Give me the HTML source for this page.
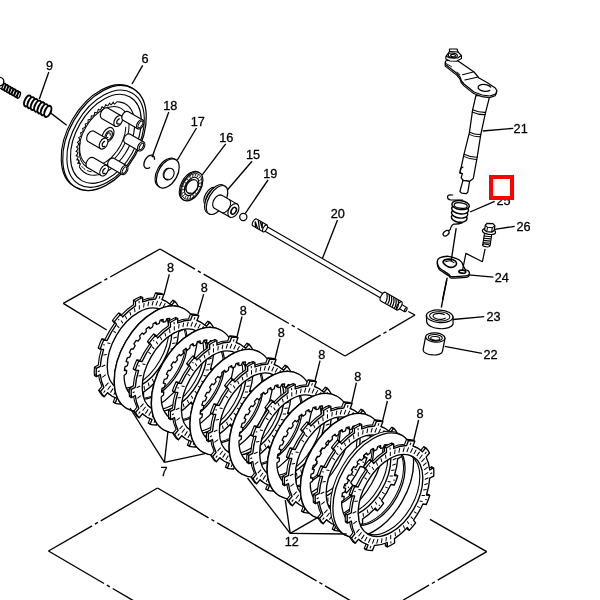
<!DOCTYPE html>
<html><head><meta charset="utf-8"><title>Clutch</title>
<style>
html,body{margin:0;padding:0;background:#fff;}
body{width:600px;height:600px;overflow:hidden;position:relative;font-family:"Liberation Sans",sans-serif;}
svg{position:absolute;left:0;top:0;display:block;}
svg text{font-family:"Liberation Sans",sans-serif;fill:#000;}
</style></head><body>
<svg width="600" height="600" viewBox="0 0 600 600">
<rect width="600" height="600" fill="#fff"/>
<path d="M63.3 303.3L101.5 281.9" stroke="#000" stroke-width="1.40" fill="none" />
<path d="M104.4 280.2L107.3 278.6" stroke="#000" stroke-width="1.40" fill="none" />
<path d="M110.2 277L160 249" stroke="#000" stroke-width="1.40" fill="none" />
<path d="M160 249L195 269.2" stroke="#000" stroke-width="1.40" fill="none" />
<path d="M197.8 270.9L200.8 272.6" stroke="#000" stroke-width="1.40" fill="none" />
<path d="M203.6 274.2L288.9 323.5" stroke="#000" stroke-width="1.40" fill="none" />
<path d="M291.7 325.2L294.7 326.9" stroke="#000" stroke-width="1.40" fill="none" />
<path d="M297.5 328.5L345 356" stroke="#000" stroke-width="1.40" fill="none" />
<path d="M63.3 303.3L106.7 330" stroke="#000" stroke-width="1.40" fill="none" />
<path d="M345 356L380.6 335.2" stroke="#000" stroke-width="1.40" fill="none" />
<path d="M383.4 333.5L386.4 331.8" stroke="#000" stroke-width="1.40" fill="none" />
<path d="M389.2 330.1L415 315" stroke="#000" stroke-width="1.40" fill="none" />
<path d="M408.3 311.5L415 315" stroke="#000" stroke-width="1.40" fill="none" />
<path d="M157.5 488L100.8 520.8" stroke="#000" stroke-width="1.40" fill="none" />
<path d="M97.9 522.4L95 524.1" stroke="#000" stroke-width="1.40" fill="none" />
<path d="M92.1 525.8L48.5 551" stroke="#000" stroke-width="1.40" fill="none" />
<path d="M157.5 488L208.5 517.8" stroke="#000" stroke-width="1.40" fill="none" />
<path d="M211.4 519.5L214.3 521.2" stroke="#000" stroke-width="1.40" fill="none" />
<path d="M217.2 522.8L316.5 580.9" stroke="#000" stroke-width="1.40" fill="none" />
<path d="M319.3 582.5L322.3 584.2" stroke="#000" stroke-width="1.40" fill="none" />
<path d="M325.1 585.9L351 601" stroke="#000" stroke-width="1.40" fill="none" />
<path d="M48.5 551L104 583.5" stroke="#000" stroke-width="1.40" fill="none" />
<path d="M106.9 585.1L109.8 586.9" stroke="#000" stroke-width="1.40" fill="none" />
<path d="M112.7 588.5L134 601" stroke="#000" stroke-width="1.40" fill="none" />
<path d="M430 519.3L486.7 551.7" stroke="#000" stroke-width="1.40" fill="none" />
<path d="M486.7 551.7L437.7 580.1" stroke="#000" stroke-width="1.40" fill="none" />
<path d="M434.8 581.8L431.9 583.5" stroke="#000" stroke-width="1.40" fill="none" />
<path d="M429 585.1L403.3 600" stroke="#000" stroke-width="1.40" fill="none" />
<g id="plates" stroke-linejoin="round">
<path d="M105.6 391.4A54.6 32.8 120 0 0 115.2 397.2L113.2 402.1A60 36 120 0 0 119.5 402.8L121.4 397.9A54.6 32.8 120 0 0 134.4 394.8L134.3 399.3A60 36 120 0 0 141.6 395.4L141.5 390.9A54.6 32.8 120 0 0 154.4 379.9L156.3 382.8A60 36 120 0 0 162.6 375.2L160.5 372.4A54.6 32.8 120 0 0 169.9 356.4L173.3 356.8A60 36 120 0 0 176.8 347.7L173.4 347.3A54.6 32.8 120 0 0 176.8 330.6L180.7 328.5A60 36 120 0 0 180.6 320.2L176.7 322.4A54.6 32.8 120 0 0 173.1 309.4L176.5 305.4A60 36 120 0 0 172.8 300.1L169.4 304.3A54.6 32.8 120 0 0 159.9 298.5L161.8 293.6A60 36 120 0 0 155.5 292.9L153.6 297.8A54.6 32.8 120 0 0 140.7 300.9L140.7 296.4A60 36 120 0 0 133.4 300.3L133.5 304.8A54.6 32.8 120 0 0 120.6 315.8L118.7 312.9A60 36 120 0 0 112.4 320.5L114.5 323.3A54.6 32.8 120 0 0 105.1 339.3L101.7 338.9A60 36 120 0 0 98.2 348L101.6 348.4A54.6 32.8 120 0 0 98.3 365.1L94.4 367.2A60 36 120 0 0 94.4 375.5L98.3 373.3A54.6 32.8 120 0 0 101.9 386.3L98.6 390.3A60 36 120 0 0 102.2 395.6L105.6 391.4ZM115.1 386.6A44.8 26.9 120 0 0 159.9 309.1A44.8 26.9 120 0 0 115.1 386.6Z" fill="#fff" stroke="#000" stroke-width="1.12" fill-rule="evenodd"/>
<path d="M115.2 403.3L113.2 402.1M121.5 404L119.5 402.8M136.3 400.5L134.3 399.3M143.6 396.5L141.6 395.4M158.3 383.9L156.3 382.8M164.6 376.3L162.6 375.2M175.3 358L173.3 356.8M178.8 348.8L176.8 347.7M182.7 329.7L180.7 328.5M182.6 321.3L180.6 320.2M178.5 306.5L176.5 305.4M174.8 301.3L172.8 300.1M163.8 294.7L161.8 293.6M157.5 294L155.5 292.9M142.7 297.5L140.7 296.4M135.4 301.5L133.4 300.3M120.7 314.1L118.7 312.9M114.4 321.7L112.4 320.5M103.7 340L101.7 338.9M100.2 349.2L98.2 348M96.3 368.3L94.4 367.2M96.4 376.7L94.4 375.5M100.5 391.5L98.6 390.3M104.2 396.7L102.2 395.6" fill="none" stroke="#000" stroke-width="1.01" />
<path d="M107.6 392.6A54.6 32.8 120 0 0 117.1 398.3L115.2 403.3A60 36 120 0 0 121.5 404L123.4 399A54.6 32.8 120 0 0 136.3 396L136.3 400.5A60 36 120 0 0 143.6 396.5L143.5 392.1A54.6 32.8 120 0 0 156.4 381L158.3 383.9A60 36 120 0 0 164.6 376.3L162.5 373.6A54.6 32.8 120 0 0 171.9 357.5L175.3 358A60 36 120 0 0 178.8 348.8L175.4 348.5A54.6 32.8 120 0 0 178.7 331.7L182.7 329.7A60 36 120 0 0 182.6 321.3L178.7 323.5A54.6 32.8 120 0 0 175.1 310.6L178.5 306.5A60 36 120 0 0 174.8 301.3L171.4 305.4A54.6 32.8 120 0 0 161.9 299.7L163.8 294.7A60 36 120 0 0 157.5 294L155.6 299A54.6 32.8 120 0 0 142.7 302L142.7 297.5A60 36 120 0 0 135.4 301.5L135.5 305.9A54.6 32.8 120 0 0 122.6 317L120.7 314.1A60 36 120 0 0 114.4 321.7L116.5 324.4A54.6 32.8 120 0 0 107.1 340.5L103.7 340A60 36 120 0 0 100.2 349.2L103.6 349.5A54.6 32.8 120 0 0 100.3 366.3L96.3 368.3A60 36 120 0 0 96.4 376.7L100.3 374.5A54.6 32.8 120 0 0 103.9 387.4L100.5 391.5A60 36 120 0 0 104.2 396.7L107.6 392.6ZM117.1 387.8A44.8 26.9 120 0 0 161.9 310.2A44.8 26.9 120 0 0 117.1 387.8Z" fill="#fff" stroke="#000" stroke-width="1.34" fill-rule="evenodd"/>
<path d="M116.1 390.5L113.7 394.8M119.5 391.8L117.4 396.3M123.1 392.5L121.4 397.1M127 392.5L125.7 397.1M131.1 391.9L130.3 396.4M135.4 390.5L134.9 394.9M139.7 388.5L139.7 392.7M144 385.9L144.5 389.8M148.2 382.7L149.1 386.2M152.3 378.9L153.6 382.1M156.2 374.7L157.9 377.4M159.8 370.1L162 372.3M163.1 365.1L165.6 366.8M166.1 359.9L168.9 361.1M168.6 354.5L171.6 355.1M170.6 349.1L173.9 349.1M172.2 343.6L175.6 343M173.3 338.2L176.8 337.1M173.8 333L177.4 331.3M173.7 328.1L177.3 325.9M173.2 323.4L176.7 320.7M172.1 319.2L175.5 316.1M170.5 315.4L173.7 311.9M168.4 312.2L171.4 308.3M165.8 309.6L168.6 305.4M162.9 307.5L165.3 303.2M159.5 306.2L161.6 301.7M155.9 305.5L157.6 300.9M152 305.5L153.3 300.9M147.9 306.1L148.7 301.6M143.6 307.5L144.1 303.1M139.3 309.5L139.3 305.3M135 312.1L134.5 308.2M130.8 315.3L129.9 311.8M126.7 319.1L125.4 315.9M122.8 323.3L121.1 320.6M119.2 327.9L117 325.7M115.9 332.9L113.4 331.2M110.4 343.5L107.4 342.9M106.8 354.4L103.4 355M105.2 365L101.6 366.7M105.8 374.6L102.3 377.3M108.5 382.6L105.3 386.1M110.6 385.8L107.6 389.7M113.2 388.4L110.4 392.6M120 399.4L119 401.8M139.9 394.7L139.9 396.9M159.8 377.7L160.7 379.1M174.2 353.1L175.8 353.3M179.3 327.3L181.2 326.3M173.8 307.4L175.4 305.4M159 298.6L160 296.2M139.1 303.3L139.1 301.1M119.2 320.3L118.3 318.9M104.8 344.9L103.2 344.7M99.7 370.7L97.8 371.7M105.2 390.6L103.6 392.6" fill="none" stroke="#000" stroke-width="1.01" />
<path d="M125.6 407.7A57.5 34.5 120 0 0 183.1 308.2A57.5 34.5 120 0 0 125.6 407.7ZM136.6 397.8A44 26.4 120 0 0 179.3 322.1L177.3 320.5L175.2 323.1L173.2 322L174.3 318.9L171.9 318.1L170.1 321L167.7 320.7L168.3 317.6L165.6 317.7L164.2 320.8L161.6 321.3L161.6 318.4L158.7 319.4L157.8 322.5L155.1 323.7L154.6 321.2L151.6 322.9L151.3 325.9L148.5 327.8L147.5 325.8L144.6 328.3L144.8 330.9L142.3 333.5L140.8 332L138.1 335.1L138.9 337.3L136.6 340.4L134.7 339.6L132.5 343L133.7 344.8L131.9 348.1L129.7 348L127.9 351.7L129.6 352.9L128.2 356.4L125.8 357L124.7 360.8L126.7 361.2L125.9 364.7L123.4 366L122.9 369.6L125.2 369.4L125 372.7L122.6 374.6A44 26.4 120 0 0 136.6 397.8Z" fill="#fff" stroke="#000" stroke-width="1.01" fill-rule="evenodd"/>
<path d="M127 408.6A57.5 34.5 120 0 0 184.5 309A57.5 34.5 120 0 0 127 408.6ZM138.1 398.6A44 26.4 120 0 0 180.8 322.9L178.8 321.3L176.7 323.9L174.7 322.8L175.8 319.7L173.4 319L171.6 321.8L169.2 321.5L169.8 318.5L167 318.6L165.7 321.6L163.1 322.1L163.1 319.3L160.2 320.2L159.3 323.3L156.6 324.5L156 322.1L153.1 323.8L152.7 326.7L150 328.7L149 326.7L146.1 329.1L146.3 331.8L143.7 334.3L142.3 332.9L139.6 335.9L140.4 338.2L138.1 341.2L136.2 340.4L133.9 343.9L135.2 345.6L133.3 349L131.1 348.9L129.4 352.6L131.1 353.7L129.7 357.2L127.3 357.8L126.1 361.6L128.2 362.1L127.4 365.6L124.9 366.8L124.4 370.5L126.7 370.3L126.4 373.6L124.1 375.4A44 26.4 120 0 0 138.1 398.6Z" fill="#fff" stroke="#000" stroke-width="1.29" fill-rule="evenodd"/>
<path d="M140.6 412.4A54.6 32.8 120 0 0 150.2 418.2L148.2 423.1A60 36 120 0 0 154.5 423.8L156.4 418.9A54.6 32.8 120 0 0 169.4 415.8L169.3 420.3A60 36 120 0 0 176.6 416.4L176.5 411.9A54.6 32.8 120 0 0 189.4 400.9L191.3 403.8A60 36 120 0 0 197.6 396.2L195.5 393.4A54.6 32.8 120 0 0 204.9 377.4L208.3 377.8A60 36 120 0 0 211.8 368.7L208.4 368.3A54.6 32.8 120 0 0 211.8 351.6L215.7 349.5A60 36 120 0 0 215.6 341.2L211.7 343.4A54.6 32.8 120 0 0 208.1 330.4L211.5 326.4A60 36 120 0 0 207.8 321.1L204.4 325.3A54.6 32.8 120 0 0 194.9 319.5L196.8 314.6A60 36 120 0 0 190.5 313.9L188.6 318.8A54.6 32.8 120 0 0 175.7 321.9L175.7 317.4A60 36 120 0 0 168.4 321.3L168.5 325.8A54.6 32.8 120 0 0 155.6 336.8L153.7 333.9A60 36 120 0 0 147.4 341.5L149.5 344.3A54.6 32.8 120 0 0 140.1 360.3L136.7 359.9A60 36 120 0 0 133.2 369L136.6 369.4A54.6 32.8 120 0 0 133.3 386.1L129.4 388.2A60 36 120 0 0 129.4 396.5L133.3 394.3A54.6 32.8 120 0 0 136.9 407.3L133.6 411.3A60 36 120 0 0 137.2 416.6L140.6 412.4ZM150.1 407.6A44.8 26.9 120 0 0 194.9 330.1A44.8 26.9 120 0 0 150.1 407.6Z" fill="#fff" stroke="#000" stroke-width="1.12" fill-rule="evenodd"/>
<path d="M150.2 424.3L148.2 423.1M156.5 425L154.5 423.8M171.3 421.5L169.3 420.3M178.6 417.5L176.6 416.4M193.3 404.9L191.3 403.8M199.6 397.3L197.6 396.2M210.3 379L208.3 377.8M213.8 369.8L211.8 368.7M217.7 350.7L215.7 349.5M217.6 342.3L215.6 341.2M213.5 327.5L211.5 326.4M209.8 322.3L207.8 321.1M198.8 315.7L196.8 314.6M192.5 315L190.5 313.9M177.7 318.5L175.7 317.4M170.4 322.5L168.4 321.3M155.7 335.1L153.7 333.9M149.4 342.7L147.4 341.5M138.7 361L136.7 359.9M135.2 370.2L133.2 369M131.3 389.3L129.4 388.2M131.4 397.7L129.4 396.5M135.5 412.5L133.6 411.3M139.2 417.7L137.2 416.6" fill="none" stroke="#000" stroke-width="1.01" />
<path d="M142.6 413.6A54.6 32.8 120 0 0 152.1 419.3L150.2 424.3A60 36 120 0 0 156.5 425L158.4 420A54.6 32.8 120 0 0 171.3 417L171.3 421.5A60 36 120 0 0 178.6 417.5L178.5 413.1A54.6 32.8 120 0 0 191.4 402L193.3 404.9A60 36 120 0 0 199.6 397.3L197.5 394.6A54.6 32.8 120 0 0 206.9 378.5L210.3 379A60 36 120 0 0 213.8 369.8L210.4 369.5A54.6 32.8 120 0 0 213.7 352.7L217.7 350.7A60 36 120 0 0 217.6 342.3L213.7 344.5A54.6 32.8 120 0 0 210.1 331.6L213.5 327.5A60 36 120 0 0 209.8 322.3L206.4 326.4A54.6 32.8 120 0 0 196.9 320.7L198.8 315.7A60 36 120 0 0 192.5 315L190.6 320A54.6 32.8 120 0 0 177.7 323L177.7 318.5A60 36 120 0 0 170.4 322.5L170.5 326.9A54.6 32.8 120 0 0 157.6 338L155.7 335.1A60 36 120 0 0 149.4 342.7L151.5 345.4A54.6 32.8 120 0 0 142.1 361.5L138.7 361A60 36 120 0 0 135.2 370.2L138.6 370.5A54.6 32.8 120 0 0 135.3 387.3L131.3 389.3A60 36 120 0 0 131.4 397.7L135.3 395.5A54.6 32.8 120 0 0 138.9 408.4L135.5 412.5A60 36 120 0 0 139.2 417.7L142.6 413.6ZM152.1 408.8A44.8 26.9 120 0 0 196.9 331.2A44.8 26.9 120 0 0 152.1 408.8Z" fill="#fff" stroke="#000" stroke-width="1.34" fill-rule="evenodd"/>
<path d="M151.1 411.5L148.7 415.8M154.5 412.8L152.4 417.3M158.1 413.5L156.4 418.1M162 413.5L160.7 418.1M166.1 412.9L165.3 417.4M170.4 411.5L169.9 415.9M174.7 409.5L174.7 413.7M179 406.9L179.5 410.8M183.2 403.7L184.1 407.2M187.3 399.9L188.6 403.1M191.2 395.7L192.9 398.4M194.8 391.1L197 393.3M198.1 386.1L200.6 387.8M201.1 380.9L203.9 382.1M203.6 375.5L206.6 376.1M205.6 370.1L208.9 370.1M207.2 364.6L210.6 364M208.3 359.2L211.8 358.1M208.8 354L212.4 352.3M208.7 349.1L212.3 346.9M208.2 344.4L211.7 341.7M207.1 340.2L210.5 337.1M205.5 336.4L208.7 332.9M203.4 333.2L206.4 329.3M200.8 330.6L203.6 326.4M197.9 328.5L200.3 324.2M194.5 327.2L196.6 322.7M190.9 326.5L192.6 321.9M187 326.5L188.3 321.9M182.9 327.1L183.7 322.6M178.6 328.5L179.1 324.1M174.3 330.5L174.3 326.3M170 333.1L169.5 329.2M165.8 336.3L164.9 332.8M161.7 340.1L160.4 336.9M157.8 344.3L156.1 341.6M154.2 348.9L152 346.7M150.9 353.9L148.4 352.2M145.4 364.5L142.4 363.9M141.8 375.4L138.4 376M140.2 386L136.6 387.7M140.8 395.6L137.3 398.3M143.5 403.6L140.3 407.1M145.6 406.8L142.6 410.7M148.2 409.4L145.4 413.6M155 420.4L154 422.8M174.9 415.7L174.9 417.9M194.8 398.7L195.7 400.1M209.2 374.1L210.8 374.3M214.3 348.3L216.2 347.3M208.8 328.4L210.4 326.4M194 319.6L195 317.2M174.1 324.3L174.1 322.1M154.2 341.3L153.3 339.9M139.8 365.9L138.2 365.7M134.7 391.7L132.8 392.7M140.2 411.6L138.6 413.6" fill="none" stroke="#000" stroke-width="1.01" />
<path d="M162.7 429.2A57.5 34.5 120 0 0 220.2 329.7A57.5 34.5 120 0 0 162.7 429.2ZM173.7 419.3A44 26.4 120 0 0 216.4 343.6L214.4 342L212.3 344.6L210.3 343.5L211.4 340.4L209 339.6L207.2 342.5L204.8 342.2L205.4 339.1L202.7 339.2L201.3 342.3L198.7 342.8L198.7 339.9L195.8 340.9L194.9 344L192.2 345.2L191.7 342.7L188.7 344.4L188.4 347.4L185.6 349.3L184.6 347.3L181.7 349.8L181.9 352.4L179.4 355L177.9 353.5L175.2 356.6L176 358.8L173.7 361.9L171.8 361.1L169.6 364.5L170.8 366.3L169 369.6L166.8 369.5L165 373.2L166.7 374.4L165.3 377.9L162.9 378.5L161.8 382.3L163.8 382.7L163 386.2L160.5 387.5L160 391.1L162.3 390.9L162.1 394.2L159.7 396.1A44 26.4 120 0 0 173.7 419.3Z" fill="#fff" stroke="#000" stroke-width="1.01" fill-rule="evenodd"/>
<path d="M164.1 430.1A57.5 34.5 120 0 0 221.6 330.5A57.5 34.5 120 0 0 164.1 430.1ZM175.2 420.1A44 26.4 120 0 0 217.9 344.4L215.9 342.8L213.8 345.4L211.8 344.3L212.9 341.2L210.5 340.5L208.7 343.3L206.3 343L206.9 340L204.1 340.1L202.8 343.1L200.2 343.6L200.2 340.8L197.3 341.7L196.4 344.8L193.7 346L193.1 343.6L190.2 345.3L189.8 348.2L187.1 350.2L186.1 348.2L183.2 350.6L183.4 353.3L180.8 355.8L179.4 354.4L176.7 357.4L177.5 359.7L175.2 362.7L173.3 361.9L171 365.4L172.3 367.1L170.4 370.5L168.2 370.4L166.5 374.1L168.2 375.2L166.8 378.7L164.4 379.3L163.2 383.1L165.3 383.6L164.5 387.1L162 388.3L161.5 392L163.8 391.8L163.5 395.1L161.2 396.9A44 26.4 120 0 0 175.2 420.1Z" fill="#fff" stroke="#000" stroke-width="1.29" fill-rule="evenodd"/>
<path d="M179.8 434.4A54.6 32.8 120 0 0 189.4 440.2L187.4 445.1A60 36 120 0 0 193.7 445.8L195.6 440.9A54.6 32.8 120 0 0 208.6 437.8L208.5 442.3A60 36 120 0 0 215.8 438.4L215.7 433.9A54.6 32.8 120 0 0 228.6 422.9L230.5 425.8A60 36 120 0 0 236.8 418.2L234.7 415.4A54.6 32.8 120 0 0 244.1 399.4L247.5 399.8A60 36 120 0 0 251 390.7L247.6 390.3A54.6 32.8 120 0 0 251 373.6L254.9 371.5A60 36 120 0 0 254.8 363.2L250.9 365.4A54.6 32.8 120 0 0 247.3 352.4L250.7 348.4A60 36 120 0 0 247 343.1L243.6 347.3A54.6 32.8 120 0 0 234.1 341.5L236 336.6A60 36 120 0 0 229.7 335.9L227.8 340.8A54.6 32.8 120 0 0 214.9 343.9L214.9 339.4A60 36 120 0 0 207.6 343.3L207.7 347.8A54.6 32.8 120 0 0 194.8 358.8L192.9 355.9A60 36 120 0 0 186.6 363.5L188.7 366.3A54.6 32.8 120 0 0 179.3 382.3L175.9 381.9A60 36 120 0 0 172.4 391L175.8 391.4A54.6 32.8 120 0 0 172.5 408.1L168.6 410.2A60 36 120 0 0 168.6 418.5L172.5 416.3A54.6 32.8 120 0 0 176.1 429.3L172.8 433.3A60 36 120 0 0 176.4 438.6L179.8 434.4ZM189.3 429.6A44.8 26.9 120 0 0 234.1 352.1A44.8 26.9 120 0 0 189.3 429.6Z" fill="#fff" stroke="#000" stroke-width="1.12" fill-rule="evenodd"/>
<path d="M189.4 446.3L187.4 445.1M195.7 447L193.7 445.8M210.5 443.5L208.5 442.3M217.8 439.5L215.8 438.4M232.5 426.9L230.5 425.8M238.8 419.3L236.8 418.2M249.5 401L247.5 399.8M253 391.8L251 390.7M256.9 372.7L254.9 371.5M256.8 364.3L254.8 363.2M252.7 349.5L250.7 348.4M249 344.3L247 343.1M238 337.7L236 336.6M231.7 337L229.7 335.9M216.9 340.5L214.9 339.4M209.6 344.5L207.6 343.3M194.9 357.1L192.9 355.9M188.6 364.7L186.6 363.5M177.9 383L175.9 381.9M174.4 392.2L172.4 391M170.5 411.3L168.6 410.2M170.6 419.7L168.6 418.5M174.7 434.5L172.8 433.3M178.4 439.7L176.4 438.6" fill="none" stroke="#000" stroke-width="1.01" />
<path d="M181.8 435.6A54.6 32.8 120 0 0 191.3 441.3L189.4 446.3A60 36 120 0 0 195.7 447L197.6 442A54.6 32.8 120 0 0 210.5 439L210.5 443.5A60 36 120 0 0 217.8 439.5L217.7 435.1A54.6 32.8 120 0 0 230.6 424L232.5 426.9A60 36 120 0 0 238.8 419.3L236.7 416.6A54.6 32.8 120 0 0 246.1 400.5L249.5 401A60 36 120 0 0 253 391.8L249.6 391.5A54.6 32.8 120 0 0 252.9 374.7L256.9 372.7A60 36 120 0 0 256.8 364.3L252.9 366.5A54.6 32.8 120 0 0 249.3 353.6L252.7 349.5A60 36 120 0 0 249 344.3L245.6 348.4A54.6 32.8 120 0 0 236.1 342.7L238 337.7A60 36 120 0 0 231.7 337L229.8 342A54.6 32.8 120 0 0 216.9 345L216.9 340.5A60 36 120 0 0 209.6 344.5L209.7 348.9A54.6 32.8 120 0 0 196.8 360L194.9 357.1A60 36 120 0 0 188.6 364.7L190.7 367.4A54.6 32.8 120 0 0 181.3 383.5L177.9 383A60 36 120 0 0 174.4 392.2L177.8 392.5A54.6 32.8 120 0 0 174.5 409.3L170.5 411.3A60 36 120 0 0 170.6 419.7L174.5 417.5A54.6 32.8 120 0 0 178.1 430.4L174.7 434.5A60 36 120 0 0 178.4 439.7L181.8 435.6ZM191.3 430.8A44.8 26.9 120 0 0 236.1 353.2A44.8 26.9 120 0 0 191.3 430.8Z" fill="#fff" stroke="#000" stroke-width="1.34" fill-rule="evenodd"/>
<path d="M190.3 433.5L187.9 437.8M193.7 434.8L191.6 439.3M197.3 435.5L195.6 440.1M201.2 435.5L199.9 440.1M205.3 434.9L204.5 439.4M209.6 433.5L209.1 437.9M213.9 431.5L213.9 435.7M218.2 428.9L218.7 432.8M222.4 425.7L223.3 429.2M226.5 421.9L227.8 425.1M230.4 417.7L232.1 420.4M234 413.1L236.2 415.3M237.3 408.1L239.8 409.8M240.3 402.9L243.1 404.1M242.8 397.5L245.8 398.1M244.8 392.1L248.1 392.1M246.4 386.6L249.8 386M247.5 381.2L251 380.1M248 376L251.6 374.3M247.9 371.1L251.5 368.9M247.4 366.4L250.9 363.7M246.3 362.2L249.7 359.1M244.7 358.4L247.9 354.9M242.6 355.2L245.6 351.3M240 352.6L242.8 348.4M237.1 350.5L239.5 346.2M233.7 349.2L235.8 344.7M230.1 348.5L231.8 343.9M226.2 348.5L227.5 343.9M222.1 349.1L222.9 344.6M217.8 350.5L218.3 346.1M213.5 352.5L213.5 348.3M209.2 355.1L208.7 351.2M205 358.3L204.1 354.8M200.9 362.1L199.6 358.9M197 366.3L195.3 363.6M193.4 370.9L191.2 368.7M190.1 375.9L187.6 374.2M184.6 386.5L181.6 385.9M181 397.4L177.6 398M179.4 408L175.8 409.7M180 417.6L176.5 420.3M182.7 425.6L179.5 429.1M184.8 428.8L181.8 432.7M187.4 431.4L184.6 435.6M194.2 442.4L193.2 444.8M214.1 437.7L214.1 439.9M234 420.7L234.9 422.1M248.4 396.1L250 396.3M253.5 370.3L255.4 369.3M248 350.4L249.6 348.4M233.2 341.6L234.2 339.2M213.3 346.3L213.3 344.1M193.4 363.3L192.5 361.9M179 387.9L177.4 387.7M173.9 413.7L172 414.7M179.4 433.6L177.8 435.6" fill="none" stroke="#000" stroke-width="1.01" />
<path d="M201.3 451.2A57.5 34.5 120 0 0 258.8 351.7A57.5 34.5 120 0 0 201.3 451.2ZM212.3 441.3A44 26.4 120 0 0 255 365.6L253 364L250.9 366.6L248.9 365.5L250 362.4L247.6 361.6L245.8 364.5L243.4 364.2L244 361.1L241.3 361.2L239.9 364.3L237.3 364.8L237.3 361.9L234.4 362.9L233.5 366L230.8 367.2L230.3 364.7L227.3 366.4L227 369.4L224.2 371.3L223.2 369.3L220.3 371.8L220.5 374.4L218 377L216.5 375.5L213.8 378.6L214.6 380.8L212.3 383.9L210.4 383.1L208.2 386.5L209.4 388.3L207.6 391.6L205.4 391.5L203.6 395.2L205.3 396.4L203.9 399.9L201.5 400.5L200.4 404.3L202.4 404.7L201.6 408.2L199.1 409.5L198.6 413.1L200.9 412.9L200.7 416.2L198.3 418.1A44 26.4 120 0 0 212.3 441.3Z" fill="#fff" stroke="#000" stroke-width="1.01" fill-rule="evenodd"/>
<path d="M202.7 452.1A57.5 34.5 120 0 0 260.2 352.5A57.5 34.5 120 0 0 202.7 452.1ZM213.8 442.1A44 26.4 120 0 0 256.5 366.4L254.5 364.8L252.4 367.4L250.4 366.3L251.5 363.2L249.1 362.5L247.3 365.3L244.9 365L245.5 362L242.7 362.1L241.4 365.1L238.8 365.6L238.8 362.8L235.9 363.7L235 366.8L232.3 368L231.7 365.6L228.8 367.3L228.4 370.2L225.7 372.2L224.7 370.2L221.8 372.6L222 375.3L219.4 377.8L218 376.4L215.3 379.4L216.1 381.7L213.8 384.7L211.9 383.9L209.6 387.4L210.9 389.1L209 392.5L206.8 392.4L205.1 396.1L206.8 397.2L205.4 400.7L203 401.3L201.8 405.1L203.9 405.6L203.1 409.1L200.6 410.3L200.1 414L202.4 413.8L202.1 417.1L199.8 418.9A44 26.4 120 0 0 213.8 442.1Z" fill="#fff" stroke="#000" stroke-width="1.29" fill-rule="evenodd"/>
<path d="M217.8 456.4A54.6 32.8 120 0 0 227.4 462.2L225.4 467.1A60 36 120 0 0 231.7 467.8L233.6 462.9A54.6 32.8 120 0 0 246.6 459.8L246.5 464.3A60 36 120 0 0 253.8 460.4L253.7 455.9A54.6 32.8 120 0 0 266.6 444.9L268.5 447.8A60 36 120 0 0 274.8 440.2L272.7 437.4A54.6 32.8 120 0 0 282.1 421.4L285.5 421.8A60 36 120 0 0 289 412.7L285.6 412.3A54.6 32.8 120 0 0 289 395.6L292.9 393.5A60 36 120 0 0 292.8 385.2L288.9 387.4A54.6 32.8 120 0 0 285.3 374.4L288.7 370.4A60 36 120 0 0 285 365.1L281.6 369.3A54.6 32.8 120 0 0 272.1 363.5L274 358.6A60 36 120 0 0 267.7 357.9L265.8 362.8A54.6 32.8 120 0 0 252.9 365.9L252.9 361.4A60 36 120 0 0 245.6 365.3L245.7 369.8A54.6 32.8 120 0 0 232.8 380.8L230.9 377.9A60 36 120 0 0 224.6 385.5L226.7 388.3A54.6 32.8 120 0 0 217.3 404.3L213.9 403.9A60 36 120 0 0 210.4 413L213.8 413.4A54.6 32.8 120 0 0 210.5 430.1L206.6 432.2A60 36 120 0 0 206.6 440.5L210.5 438.3A54.6 32.8 120 0 0 214.1 451.3L210.8 455.3A60 36 120 0 0 214.4 460.6L217.8 456.4ZM227.3 451.6A44.8 26.9 120 0 0 272.1 374.1A44.8 26.9 120 0 0 227.3 451.6Z" fill="#fff" stroke="#000" stroke-width="1.12" fill-rule="evenodd"/>
<path d="M227.4 468.3L225.4 467.1M233.7 469L231.7 467.8M248.5 465.5L246.5 464.3M255.8 461.5L253.8 460.4M270.5 448.9L268.5 447.8M276.8 441.3L274.8 440.2M287.5 423L285.5 421.8M291 413.8L289 412.7M294.9 394.7L292.9 393.5M294.8 386.3L292.8 385.2M290.7 371.5L288.7 370.4M287 366.3L285 365.1M276 359.7L274 358.6M269.7 359L267.7 357.9M254.9 362.5L252.9 361.4M247.6 366.5L245.6 365.3M232.9 379.1L230.9 377.9M226.6 386.7L224.6 385.5M215.9 405L213.9 403.9M212.4 414.2L210.4 413M208.5 433.3L206.6 432.2M208.6 441.7L206.6 440.5M212.7 456.5L210.8 455.3M216.4 461.7L214.4 460.6" fill="none" stroke="#000" stroke-width="1.01" />
<path d="M219.8 457.6A54.6 32.8 120 0 0 229.3 463.3L227.4 468.3A60 36 120 0 0 233.7 469L235.6 464A54.6 32.8 120 0 0 248.5 461L248.5 465.5A60 36 120 0 0 255.8 461.5L255.7 457.1A54.6 32.8 120 0 0 268.6 446L270.5 448.9A60 36 120 0 0 276.8 441.3L274.7 438.6A54.6 32.8 120 0 0 284.1 422.5L287.5 423A60 36 120 0 0 291 413.8L287.6 413.5A54.6 32.8 120 0 0 290.9 396.7L294.9 394.7A60 36 120 0 0 294.8 386.3L290.9 388.5A54.6 32.8 120 0 0 287.3 375.6L290.7 371.5A60 36 120 0 0 287 366.3L283.6 370.4A54.6 32.8 120 0 0 274.1 364.7L276 359.7A60 36 120 0 0 269.7 359L267.8 364A54.6 32.8 120 0 0 254.9 367L254.9 362.5A60 36 120 0 0 247.6 366.5L247.7 370.9A54.6 32.8 120 0 0 234.8 382L232.9 379.1A60 36 120 0 0 226.6 386.7L228.7 389.4A54.6 32.8 120 0 0 219.3 405.5L215.9 405A60 36 120 0 0 212.4 414.2L215.8 414.5A54.6 32.8 120 0 0 212.5 431.3L208.5 433.3A60 36 120 0 0 208.6 441.7L212.5 439.5A54.6 32.8 120 0 0 216.1 452.4L212.7 456.5A60 36 120 0 0 216.4 461.7L219.8 457.6ZM229.3 452.8A44.8 26.9 120 0 0 274.1 375.2A44.8 26.9 120 0 0 229.3 452.8Z" fill="#fff" stroke="#000" stroke-width="1.34" fill-rule="evenodd"/>
<path d="M228.3 455.5L225.9 459.8M231.7 456.8L229.6 461.3M235.3 457.5L233.6 462.1M239.2 457.5L237.9 462.1M243.3 456.9L242.5 461.4M247.6 455.5L247.1 459.9M251.9 453.5L251.9 457.7M256.2 450.9L256.7 454.8M260.4 447.7L261.3 451.2M264.5 443.9L265.8 447.1M268.4 439.7L270.1 442.4M272 435.1L274.2 437.3M275.3 430.1L277.8 431.8M278.3 424.9L281.1 426.1M280.8 419.5L283.8 420.1M282.8 414.1L286.1 414.1M284.4 408.6L287.8 408M285.5 403.2L289 402.1M286 398L289.6 396.3M285.9 393.1L289.5 390.9M285.4 388.4L288.9 385.7M284.3 384.2L287.7 381.1M282.7 380.4L285.9 376.9M280.6 377.2L283.6 373.3M278 374.6L280.8 370.4M275.1 372.5L277.5 368.2M271.7 371.2L273.8 366.7M268.1 370.5L269.8 365.9M264.2 370.5L265.5 365.9M260.1 371.1L260.9 366.6M255.8 372.5L256.3 368.1M251.5 374.5L251.5 370.3M247.2 377.1L246.7 373.2M243 380.3L242.1 376.8M238.9 384.1L237.6 380.9M235 388.3L233.3 385.6M231.4 392.9L229.2 390.7M228.1 397.9L225.6 396.2M222.6 408.5L219.6 407.9M219 419.4L215.6 420M217.4 430L213.8 431.7M218 439.6L214.5 442.3M220.7 447.6L217.5 451.1M222.8 450.8L219.8 454.7M225.4 453.4L222.6 457.6M232.2 464.4L231.2 466.8M252.1 459.7L252.1 461.9M272 442.7L272.9 444.1M286.4 418.1L288 418.3M291.5 392.3L293.4 391.3M286 372.4L287.6 370.4M271.2 363.6L272.2 361.2M251.3 368.3L251.3 366.1M231.4 385.3L230.5 383.9M217 409.9L215.4 409.7M211.9 435.7L210 436.7M217.4 455.6L215.8 457.6" fill="none" stroke="#000" stroke-width="1.01" />
<path d="M240.4 473.2A57.5 34.5 120 0 0 297.9 373.7A57.5 34.5 120 0 0 240.4 473.2ZM251.5 463.3A44 26.4 120 0 0 294.1 387.6L292.2 386L290.1 388.6L288.1 387.5L289.2 384.4L286.7 383.6L285 386.5L282.6 386.2L283.2 383.1L280.4 383.2L279.1 386.3L276.4 386.8L276.5 383.9L273.5 384.9L272.7 388L269.9 389.2L269.4 386.7L266.4 388.4L266.1 391.4L263.4 393.3L262.4 391.3L259.5 393.8L259.7 396.4L257.1 399L255.6 397.5L253 400.6L253.8 402.8L251.5 405.9L249.6 405.1L247.3 408.5L248.6 410.3L246.7 413.6L244.5 413.5L242.8 417.2L244.4 418.4L243.1 421.9L240.7 422.5L239.5 426.3L241.5 426.7L240.7 430.2L238.3 431.5L237.7 435.1L240 434.9L239.8 438.2L237.4 440.1A44 26.4 120 0 0 251.5 463.3Z" fill="#fff" stroke="#000" stroke-width="1.01" fill-rule="evenodd"/>
<path d="M241.9 474.1A57.5 34.5 120 0 0 299.4 374.5A57.5 34.5 120 0 0 241.9 474.1ZM252.9 464.1A44 26.4 120 0 0 295.6 388.4L293.7 386.8L291.6 389.4L289.5 388.3L290.6 385.2L288.2 384.5L286.5 387.3L284.1 387L284.6 384L281.9 384.1L280.6 387.1L277.9 387.6L278 384.8L275 385.7L274.2 388.8L271.4 390L270.9 387.6L267.9 389.3L267.6 392.2L264.9 394.2L263.8 392.2L260.9 394.6L261.2 397.3L258.6 399.8L257.1 398.4L254.5 401.4L255.2 403.7L252.9 406.7L251.1 405.9L248.8 409.4L250.1 411.1L248.2 414.5L246 414.4L244.2 418.1L245.9 419.2L244.5 422.7L242.2 423.3L241 427.1L243 427.6L242.2 431.1L239.8 432.3L239.2 436L241.5 435.8L241.3 439.1L238.9 440.9A44 26.4 120 0 0 252.9 464.1Z" fill="#fff" stroke="#000" stroke-width="1.29" fill-rule="evenodd"/>
<path d="M258.1 478.4A54.6 32.8 120 0 0 267.7 484.2L265.7 489.1A60 36 120 0 0 272 489.8L273.9 484.9A54.6 32.8 120 0 0 286.9 481.8L286.8 486.3A60 36 120 0 0 294.1 482.4L294 477.9A54.6 32.8 120 0 0 306.9 466.9L308.8 469.8A60 36 120 0 0 315.1 462.2L313 459.4A54.6 32.8 120 0 0 322.4 443.4L325.8 443.8A60 36 120 0 0 329.3 434.7L325.9 434.3A54.6 32.8 120 0 0 329.3 417.6L333.2 415.5A60 36 120 0 0 333.1 407.2L329.2 409.4A54.6 32.8 120 0 0 325.6 396.4L329 392.4A60 36 120 0 0 325.3 387.1L321.9 391.3A54.6 32.8 120 0 0 312.4 385.5L314.3 380.6A60 36 120 0 0 308 379.9L306.1 384.8A54.6 32.8 120 0 0 293.2 387.9L293.2 383.4A60 36 120 0 0 285.9 387.3L286 391.8A54.6 32.8 120 0 0 273.1 402.8L271.2 399.9A60 36 120 0 0 264.9 407.5L267 410.3A54.6 32.8 120 0 0 257.6 426.3L254.2 425.9A60 36 120 0 0 250.7 435L254.1 435.4A54.6 32.8 120 0 0 250.8 452.1L246.9 454.2A60 36 120 0 0 246.9 462.5L250.8 460.3A54.6 32.8 120 0 0 254.4 473.3L251.1 477.3A60 36 120 0 0 254.7 482.6L258.1 478.4ZM267.6 473.6A44.8 26.9 120 0 0 312.4 396.1A44.8 26.9 120 0 0 267.6 473.6Z" fill="#fff" stroke="#000" stroke-width="1.12" fill-rule="evenodd"/>
<path d="M267.7 490.3L265.7 489.1M274 491L272 489.8M288.8 487.5L286.8 486.3M296.1 483.5L294.1 482.4M310.8 470.9L308.8 469.8M317.1 463.3L315.1 462.2M327.8 445L325.8 443.8M331.3 435.8L329.3 434.7M335.2 416.7L333.2 415.5M335.1 408.3L333.1 407.2M331 393.5L329 392.4M327.3 388.3L325.3 387.1M316.3 381.7L314.3 380.6M310 381L308 379.9M295.2 384.5L293.2 383.4M287.9 388.5L285.9 387.3M273.2 401.1L271.2 399.9M266.9 408.7L264.9 407.5M256.2 427L254.2 425.9M252.7 436.2L250.7 435M248.8 455.3L246.9 454.2M248.9 463.7L246.9 462.5M253 478.5L251.1 477.3M256.7 483.7L254.7 482.6" fill="none" stroke="#000" stroke-width="1.01" />
<path d="M260.1 479.6A54.6 32.8 120 0 0 269.6 485.3L267.7 490.3A60 36 120 0 0 274 491L275.9 486A54.6 32.8 120 0 0 288.8 483L288.8 487.5A60 36 120 0 0 296.1 483.5L296 479.1A54.6 32.8 120 0 0 308.9 468L310.8 470.9A60 36 120 0 0 317.1 463.3L315 460.6A54.6 32.8 120 0 0 324.4 444.5L327.8 445A60 36 120 0 0 331.3 435.8L327.9 435.5A54.6 32.8 120 0 0 331.2 418.7L335.2 416.7A60 36 120 0 0 335.1 408.3L331.2 410.5A54.6 32.8 120 0 0 327.6 397.6L331 393.5A60 36 120 0 0 327.3 388.3L323.9 392.4A54.6 32.8 120 0 0 314.4 386.7L316.3 381.7A60 36 120 0 0 310 381L308.1 386A54.6 32.8 120 0 0 295.2 389L295.2 384.5A60 36 120 0 0 287.9 388.5L288 392.9A54.6 32.8 120 0 0 275.1 404L273.2 401.1A60 36 120 0 0 266.9 408.7L269 411.4A54.6 32.8 120 0 0 259.6 427.5L256.2 427A60 36 120 0 0 252.7 436.2L256.1 436.5A54.6 32.8 120 0 0 252.8 453.3L248.8 455.3A60 36 120 0 0 248.9 463.7L252.8 461.5A54.6 32.8 120 0 0 256.4 474.4L253 478.5A60 36 120 0 0 256.7 483.7L260.1 479.6ZM269.6 474.8A44.8 26.9 120 0 0 314.4 397.2A44.8 26.9 120 0 0 269.6 474.8Z" fill="#fff" stroke="#000" stroke-width="1.34" fill-rule="evenodd"/>
<path d="M268.6 477.5L266.2 481.8M272 478.8L269.9 483.3M275.6 479.5L273.9 484.1M279.5 479.5L278.2 484.1M283.6 478.9L282.8 483.4M287.9 477.5L287.4 481.9M292.2 475.5L292.2 479.7M296.5 472.9L297 476.8M300.7 469.7L301.6 473.2M304.8 465.9L306.1 469.1M308.7 461.7L310.4 464.4M312.3 457.1L314.5 459.3M315.6 452.1L318.1 453.8M318.6 446.9L321.4 448.1M321.1 441.5L324.1 442.1M323.1 436.1L326.4 436.1M324.7 430.6L328.1 430M325.8 425.2L329.3 424.1M326.3 420L329.9 418.3M326.2 415.1L329.8 412.9M325.7 410.4L329.2 407.7M324.6 406.2L328 403.1M323 402.4L326.2 398.9M320.9 399.2L323.9 395.3M318.3 396.6L321.1 392.4M315.4 394.5L317.8 390.2M312 393.2L314.1 388.7M308.4 392.5L310.1 387.9M304.5 392.5L305.8 387.9M300.4 393.1L301.2 388.6M296.1 394.5L296.6 390.1M291.8 396.5L291.8 392.3M287.5 399.1L287 395.2M283.3 402.3L282.4 398.8M279.2 406.1L277.9 402.9M275.3 410.3L273.6 407.6M271.7 414.9L269.5 412.7M268.4 419.9L265.9 418.2M262.9 430.5L259.9 429.9M259.3 441.4L255.9 442M257.7 452L254.1 453.7M258.3 461.6L254.8 464.3M261 469.6L257.8 473.1M263.1 472.8L260.1 476.7M265.7 475.4L262.9 479.6M272.5 486.4L271.5 488.8M292.4 481.7L292.4 483.9M312.3 464.7L313.2 466.1M326.7 440.1L328.3 440.3M331.8 414.3L333.7 413.3M326.3 394.4L327.9 392.4M311.5 385.6L312.5 383.2M291.6 390.3L291.6 388.1M271.7 407.3L270.8 405.9M257.3 431.9L255.7 431.7M252.2 457.7L250.3 458.7M257.7 477.6L256.1 479.6" fill="none" stroke="#000" stroke-width="1.01" />
<path d="M278.4 495.2A57.5 34.5 120 0 0 335.9 395.7A57.5 34.5 120 0 0 278.4 495.2ZM289.5 485.3A44 26.4 120 0 0 332.1 409.6L330.2 408L328.1 410.6L326.1 409.5L327.2 406.4L324.7 405.6L323 408.5L320.6 408.2L321.2 405.1L318.4 405.2L317.1 408.3L314.4 408.8L314.5 405.9L311.5 406.9L310.7 410L307.9 411.2L307.4 408.7L304.4 410.4L304.1 413.4L301.4 415.3L300.4 413.3L297.5 415.8L297.7 418.4L295.1 421L293.6 419.5L291 422.6L291.8 424.8L289.5 427.9L287.6 427.1L285.3 430.5L286.6 432.3L284.7 435.6L282.5 435.5L280.8 439.2L282.4 440.4L281.1 443.9L278.7 444.5L277.5 448.3L279.5 448.7L278.7 452.2L276.3 453.5L275.7 457.1L278 456.9L277.8 460.2L275.4 462.1A44 26.4 120 0 0 289.5 485.3Z" fill="#fff" stroke="#000" stroke-width="1.01" fill-rule="evenodd"/>
<path d="M279.9 496.1A57.5 34.5 120 0 0 337.4 396.5A57.5 34.5 120 0 0 279.9 496.1ZM290.9 486.1A44 26.4 120 0 0 333.6 410.4L331.7 408.8L329.6 411.4L327.5 410.3L328.6 407.2L326.2 406.5L324.5 409.3L322.1 409L322.6 406L319.9 406.1L318.6 409.1L315.9 409.6L316 406.8L313 407.7L312.2 410.8L309.4 412L308.9 409.6L305.9 411.3L305.6 414.2L302.9 416.2L301.8 414.2L298.9 416.6L299.2 419.3L296.6 421.8L295.1 420.4L292.5 423.4L293.2 425.7L290.9 428.7L289.1 427.9L286.8 431.4L288.1 433.1L286.2 436.5L284 436.4L282.2 440.1L283.9 441.2L282.5 444.7L280.2 445.3L279 449.1L281 449.6L280.2 453.1L277.8 454.3L277.2 458L279.5 457.8L279.3 461.1L276.9 462.9A44 26.4 120 0 0 290.9 486.1Z" fill="#fff" stroke="#000" stroke-width="1.29" fill-rule="evenodd"/>
<path d="M293.8 500.4A54.6 32.8 120 0 0 303.4 506.2L301.4 511.1A60 36 120 0 0 307.7 511.8L309.6 506.9A54.6 32.8 120 0 0 322.6 503.8L322.5 508.3A60 36 120 0 0 329.8 504.4L329.7 499.9A54.6 32.8 120 0 0 342.6 488.9L344.5 491.8A60 36 120 0 0 350.8 484.2L348.7 481.4A54.6 32.8 120 0 0 358.1 465.4L361.5 465.8A60 36 120 0 0 365 456.7L361.6 456.3A54.6 32.8 120 0 0 365 439.6L368.9 437.5A60 36 120 0 0 368.8 429.2L364.9 431.4A54.6 32.8 120 0 0 361.3 418.4L364.7 414.4A60 36 120 0 0 361 409.1L357.6 413.3A54.6 32.8 120 0 0 348.1 407.5L350 402.6A60 36 120 0 0 343.7 401.9L341.8 406.8A54.6 32.8 120 0 0 328.9 409.9L328.9 405.4A60 36 120 0 0 321.6 409.3L321.7 413.8A54.6 32.8 120 0 0 308.8 424.8L306.9 421.9A60 36 120 0 0 300.6 429.5L302.7 432.3A54.6 32.8 120 0 0 293.3 448.3L289.9 447.9A60 36 120 0 0 286.4 457L289.8 457.4A54.6 32.8 120 0 0 286.5 474.1L282.6 476.2A60 36 120 0 0 282.6 484.5L286.5 482.3A54.6 32.8 120 0 0 290.1 495.3L286.8 499.3A60 36 120 0 0 290.4 504.6L293.8 500.4ZM303.3 495.6A44.8 26.9 120 0 0 348.1 418.1A44.8 26.9 120 0 0 303.3 495.6Z" fill="#fff" stroke="#000" stroke-width="1.12" fill-rule="evenodd"/>
<path d="M303.4 512.3L301.4 511.1M309.7 513L307.7 511.8M324.5 509.5L322.5 508.3M331.8 505.5L329.8 504.4M346.5 492.9L344.5 491.8M352.8 485.3L350.8 484.2M363.5 467L361.5 465.8M367 457.8L365 456.7M370.9 438.7L368.9 437.5M370.8 430.3L368.8 429.2M366.7 415.5L364.7 414.4M363 410.3L361 409.1M352 403.7L350 402.6M345.7 403L343.7 401.9M330.9 406.5L328.9 405.4M323.6 410.5L321.6 409.3M308.9 423.1L306.9 421.9M302.6 430.7L300.6 429.5M291.9 449L289.9 447.9M288.4 458.2L286.4 457M284.5 477.3L282.6 476.2M284.6 485.7L282.6 484.5M288.7 500.5L286.8 499.3M292.4 505.7L290.4 504.6" fill="none" stroke="#000" stroke-width="1.01" />
<path d="M295.8 501.6A54.6 32.8 120 0 0 305.3 507.3L303.4 512.3A60 36 120 0 0 309.7 513L311.6 508A54.6 32.8 120 0 0 324.5 505L324.5 509.5A60 36 120 0 0 331.8 505.5L331.7 501.1A54.6 32.8 120 0 0 344.6 490L346.5 492.9A60 36 120 0 0 352.8 485.3L350.7 482.6A54.6 32.8 120 0 0 360.1 466.5L363.5 467A60 36 120 0 0 367 457.8L363.6 457.5A54.6 32.8 120 0 0 366.9 440.7L370.9 438.7A60 36 120 0 0 370.8 430.3L366.9 432.5A54.6 32.8 120 0 0 363.3 419.6L366.7 415.5A60 36 120 0 0 363 410.3L359.6 414.4A54.6 32.8 120 0 0 350.1 408.7L352 403.7A60 36 120 0 0 345.7 403L343.8 408A54.6 32.8 120 0 0 330.9 411L330.9 406.5A60 36 120 0 0 323.6 410.5L323.7 414.9A54.6 32.8 120 0 0 310.8 426L308.9 423.1A60 36 120 0 0 302.6 430.7L304.7 433.4A54.6 32.8 120 0 0 295.3 449.5L291.9 449A60 36 120 0 0 288.4 458.2L291.8 458.5A54.6 32.8 120 0 0 288.5 475.3L284.5 477.3A60 36 120 0 0 284.6 485.7L288.5 483.5A54.6 32.8 120 0 0 292.1 496.4L288.7 500.5A60 36 120 0 0 292.4 505.7L295.8 501.6ZM305.3 496.8A44.8 26.9 120 0 0 350.1 419.2A44.8 26.9 120 0 0 305.3 496.8Z" fill="#fff" stroke="#000" stroke-width="1.34" fill-rule="evenodd"/>
<path d="M304.3 499.5L301.9 503.8M307.7 500.8L305.6 505.3M311.3 501.5L309.6 506.1M315.2 501.5L313.9 506.1M319.3 500.9L318.5 505.4M323.6 499.5L323.1 503.9M327.9 497.5L327.9 501.7M332.2 494.9L332.7 498.8M336.4 491.7L337.3 495.2M340.5 487.9L341.8 491.1M344.4 483.7L346.1 486.4M348 479.1L350.2 481.3M351.3 474.1L353.8 475.8M354.3 468.9L357.1 470.1M356.8 463.5L359.8 464.1M358.8 458.1L362.1 458.1M360.4 452.6L363.8 452M361.5 447.2L365 446.1M362 442L365.6 440.3M361.9 437.1L365.5 434.9M361.4 432.4L364.9 429.7M360.3 428.2L363.7 425.1M358.7 424.4L361.9 420.9M356.6 421.2L359.6 417.3M354 418.6L356.8 414.4M351.1 416.5L353.5 412.2M347.7 415.2L349.8 410.7M344.1 414.5L345.8 409.9M340.2 414.5L341.5 409.9M336.1 415.1L336.9 410.6M331.8 416.5L332.3 412.1M327.5 418.5L327.5 414.3M323.2 421.1L322.7 417.2M319 424.3L318.1 420.8M314.9 428.1L313.6 424.9M311 432.3L309.3 429.6M307.4 436.9L305.2 434.7M304.1 441.9L301.6 440.2M298.6 452.5L295.6 451.9M295 463.4L291.6 464M293.4 474L289.8 475.7M294 483.6L290.5 486.3M296.7 491.6L293.5 495.1M298.8 494.8L295.8 498.7M301.4 497.4L298.6 501.6M308.2 508.4L307.2 510.8M328.1 503.7L328.1 505.9M348 486.7L348.9 488.1M362.4 462.1L364 462.3M367.5 436.3L369.4 435.3M362 416.4L363.6 414.4M347.2 407.6L348.2 405.2M327.3 412.3L327.3 410.1M307.4 429.3L306.5 427.9M293 453.9L291.4 453.7M287.9 479.7L286 480.7M293.4 499.6L291.8 501.6" fill="none" stroke="#000" stroke-width="1.01" />
<path d="M311.7 515.2A57.5 34.5 120 0 0 369.2 415.7A57.5 34.5 120 0 0 311.7 515.2ZM322.7 505.3A44 26.4 120 0 0 365.4 429.6L363.4 428L361.3 430.6L359.3 429.5L360.4 426.4L358 425.6L356.2 428.5L353.8 428.2L354.4 425.1L351.7 425.2L350.3 428.3L347.7 428.8L347.7 425.9L344.8 426.9L343.9 430L341.2 431.2L340.7 428.7L337.7 430.4L337.4 433.4L334.6 435.3L333.6 433.3L330.7 435.8L330.9 438.4L328.4 441L326.9 439.5L324.2 442.6L325 444.8L322.7 447.9L320.8 447.1L318.6 450.5L319.8 452.3L318 455.6L315.8 455.5L314 459.2L315.7 460.4L314.3 463.9L311.9 464.5L310.8 468.3L312.8 468.7L312 472.2L309.5 473.5L309 477.1L311.3 476.9L311.1 480.2L308.7 482.1A44 26.4 120 0 0 322.7 505.3Z" fill="#fff" stroke="#000" stroke-width="1.01" fill-rule="evenodd"/>
<path d="M313.1 516.1A57.5 34.5 120 0 0 370.6 416.5A57.5 34.5 120 0 0 313.1 516.1ZM324.2 506.1A44 26.4 120 0 0 366.9 430.4L364.9 428.8L362.8 431.4L360.8 430.3L361.9 427.2L359.5 426.5L357.7 429.3L355.3 429L355.9 426L353.1 426.1L351.8 429.1L349.2 429.6L349.2 426.8L346.3 427.7L345.4 430.8L342.7 432L342.1 429.6L339.2 431.3L338.8 434.2L336.1 436.2L335.1 434.2L332.2 436.6L332.4 439.3L329.8 441.8L328.4 440.4L325.7 443.4L326.5 445.7L324.2 448.7L322.3 447.9L320 451.4L321.3 453.1L319.4 456.5L317.2 456.4L315.5 460.1L317.2 461.2L315.8 464.7L313.4 465.3L312.2 469.1L314.3 469.6L313.5 473.1L311 474.3L310.5 478L312.8 477.8L312.5 481.1L310.2 482.9A44 26.4 120 0 0 324.2 506.1Z" fill="#fff" stroke="#000" stroke-width="1.29" fill-rule="evenodd"/>
<path d="M324.6 518.4A54.6 32.8 120 0 0 334.2 524.2L332.2 529.1A60 36 120 0 0 338.5 529.8L340.4 524.9A54.6 32.8 120 0 0 353.4 521.8L353.3 526.3A60 36 120 0 0 360.6 522.4L360.5 517.9A54.6 32.8 120 0 0 373.4 506.9L375.3 509.8A60 36 120 0 0 381.6 502.2L379.5 499.4A54.6 32.8 120 0 0 388.9 483.4L392.3 483.8A60 36 120 0 0 395.8 474.7L392.4 474.3A54.6 32.8 120 0 0 395.8 457.6L399.7 455.5A60 36 120 0 0 399.6 447.2L395.7 449.4A54.6 32.8 120 0 0 392.1 436.4L395.5 432.4A60 36 120 0 0 391.8 427.1L388.4 431.3A54.6 32.8 120 0 0 378.9 425.5L380.8 420.6A60 36 120 0 0 374.5 419.9L372.6 424.8A54.6 32.8 120 0 0 359.7 427.9L359.7 423.4A60 36 120 0 0 352.4 427.3L352.5 431.8A54.6 32.8 120 0 0 339.6 442.8L337.7 439.9A60 36 120 0 0 331.4 447.5L333.5 450.3A54.6 32.8 120 0 0 324.1 466.3L320.7 465.9A60 36 120 0 0 317.2 475L320.6 475.4A54.6 32.8 120 0 0 317.3 492.1L313.4 494.2A60 36 120 0 0 313.4 502.5L317.3 500.3A54.6 32.8 120 0 0 320.9 513.3L317.6 517.3A60 36 120 0 0 321.2 522.6L324.6 518.4ZM334.1 513.6A44.8 26.9 120 0 0 378.9 436.1A44.8 26.9 120 0 0 334.1 513.6Z" fill="#fff" stroke="#000" stroke-width="1.12" fill-rule="evenodd"/>
<path d="M334.2 530.3L332.2 529.1M340.5 531L338.5 529.8M355.3 527.5L353.3 526.3M362.6 523.5L360.6 522.4M377.3 510.9L375.3 509.8M383.6 503.3L381.6 502.2M394.3 485L392.3 483.8M397.8 475.8L395.8 474.7M401.7 456.7L399.7 455.5M401.6 448.3L399.6 447.2M397.5 433.5L395.5 432.4M393.8 428.3L391.8 427.1M382.8 421.7L380.8 420.6M376.5 421L374.5 419.9M361.7 424.5L359.7 423.4M354.4 428.5L352.4 427.3M339.7 441.1L337.7 439.9M333.4 448.7L331.4 447.5M322.7 467L320.7 465.9M319.2 476.2L317.2 475M315.3 495.3L313.4 494.2M315.4 503.7L313.4 502.5M319.5 518.5L317.6 517.3M323.2 523.7L321.2 522.6" fill="none" stroke="#000" stroke-width="1.01" />
<path d="M326.6 519.6A54.6 32.8 120 0 0 336.1 525.3L334.2 530.3A60 36 120 0 0 340.5 531L342.4 526A54.6 32.8 120 0 0 355.3 523L355.3 527.5A60 36 120 0 0 362.6 523.5L362.5 519.1A54.6 32.8 120 0 0 375.4 508L377.3 510.9A60 36 120 0 0 383.6 503.3L381.5 500.6A54.6 32.8 120 0 0 390.9 484.5L394.3 485A60 36 120 0 0 397.8 475.8L394.4 475.5A54.6 32.8 120 0 0 397.7 458.7L401.7 456.7A60 36 120 0 0 401.6 448.3L397.7 450.5A54.6 32.8 120 0 0 394.1 437.6L397.5 433.5A60 36 120 0 0 393.8 428.3L390.4 432.4A54.6 32.8 120 0 0 380.9 426.7L382.8 421.7A60 36 120 0 0 376.5 421L374.6 426A54.6 32.8 120 0 0 361.7 429L361.7 424.5A60 36 120 0 0 354.4 428.5L354.5 432.9A54.6 32.8 120 0 0 341.6 444L339.7 441.1A60 36 120 0 0 333.4 448.7L335.5 451.4A54.6 32.8 120 0 0 326.1 467.5L322.7 467A60 36 120 0 0 319.2 476.2L322.6 476.5A54.6 32.8 120 0 0 319.3 493.3L315.3 495.3A60 36 120 0 0 315.4 503.7L319.3 501.5A54.6 32.8 120 0 0 322.9 514.4L319.5 518.5A60 36 120 0 0 323.2 523.7L326.6 519.6ZM336.1 514.8A44.8 26.9 120 0 0 380.9 437.2A44.8 26.9 120 0 0 336.1 514.8Z" fill="#fff" stroke="#000" stroke-width="1.34" fill-rule="evenodd"/>
<path d="M335.1 517.5L332.7 521.8M338.5 518.8L336.4 523.3M342.1 519.5L340.4 524.1M346 519.5L344.7 524.1M350.1 518.9L349.3 523.4M354.4 517.5L353.9 521.9M358.7 515.5L358.7 519.7M363 512.9L363.5 516.8M367.2 509.7L368.1 513.2M371.3 505.9L372.6 509.1M375.2 501.7L376.9 504.4M378.8 497.1L381 499.3M382.1 492.1L384.6 493.8M385.1 486.9L387.9 488.1M387.6 481.5L390.6 482.1M389.6 476.1L392.9 476.1M391.2 470.6L394.6 470M392.3 465.2L395.8 464.1M392.8 460L396.4 458.3M392.7 455.1L396.3 452.9M392.2 450.4L395.7 447.7M391.1 446.2L394.5 443.1M389.5 442.4L392.7 438.9M387.4 439.2L390.4 435.3M384.8 436.6L387.6 432.4M381.9 434.5L384.3 430.2M378.5 433.2L380.6 428.7M374.9 432.5L376.6 427.9M371 432.5L372.3 427.9M366.9 433.1L367.7 428.6M362.6 434.5L363.1 430.1M358.3 436.5L358.3 432.3M354 439.1L353.5 435.2M349.8 442.3L348.9 438.8M345.7 446.1L344.4 442.9M341.8 450.3L340.1 447.6M338.2 454.9L336 452.7M334.9 459.9L332.4 458.2M329.4 470.5L326.4 469.9M325.8 481.4L322.4 482M324.2 492L320.6 493.7M324.8 501.6L321.3 504.3M327.5 509.6L324.3 513.1M329.6 512.8L326.6 516.7M332.2 515.4L329.4 519.6M339 526.4L338 528.8M358.9 521.7L358.9 523.9M378.8 504.7L379.7 506.1M393.2 480.1L394.8 480.3M398.3 454.3L400.2 453.3M392.8 434.4L394.4 432.4M378 425.6L379 423.2M358.1 430.3L358.1 428.1M338.2 447.3L337.3 445.9M323.8 471.9L322.2 471.7M318.7 497.7L316.8 498.7M324.2 517.6L322.6 519.6" fill="none" stroke="#000" stroke-width="1.01" />
<path d="M343.1 534A57.5 34.5 120 0 0 400.6 434.4A57.5 34.5 120 0 0 343.1 534ZM354.1 524A44 26.4 120 0 0 396.8 448.3L394.8 446.7L392.7 449.3L390.7 448.2L391.8 445.1L389.4 444.4L387.6 447.2L385.2 446.9L385.8 443.9L383.1 444L381.7 447L379.1 447.5L379.1 444.7L376.2 445.6L375.3 448.7L372.6 449.9L372.1 447.5L369.1 449.2L368.8 452.1L366 454.1L365 452.1L362.1 454.5L362.3 457.2L359.8 459.7L358.3 458.3L355.6 461.3L356.4 463.6L354.1 466.6L352.2 465.8L350 469.3L351.2 471L349.4 474.4L347.2 474.3L345.4 478L347.1 479.1L345.7 482.6L343.3 483.2L342.2 487L344.2 487.5L343.4 491L340.9 492.2L340.4 495.9L342.7 495.7L342.5 499L340.1 500.8A44 26.4 120 0 0 354.1 524Z" fill="#fff" stroke="#000" stroke-width="1.01" fill-rule="evenodd"/>
<path d="M344.5 534.8A57.5 34.5 120 0 0 402 435.3A57.5 34.5 120 0 0 344.5 534.8ZM355.6 524.9A44 26.4 120 0 0 398.3 449.2L396.3 447.6L394.2 450.2L392.2 449.1L393.3 446L390.9 445.2L389.1 448.1L386.7 447.8L387.3 444.7L384.5 444.8L383.2 447.9L380.6 448.4L380.6 445.5L377.7 446.5L376.8 449.6L374.1 450.8L373.5 448.3L370.6 450L370.2 453L367.5 454.9L366.5 452.9L363.6 455.4L363.8 458L361.2 460.6L359.8 459.1L357.1 462.2L357.9 464.4L355.6 467.5L353.7 466.7L351.4 470.1L352.7 471.9L350.8 475.2L348.6 475.1L346.9 478.8L348.6 480L347.2 483.5L344.8 484.1L343.6 487.9L345.7 488.3L344.9 491.8L342.4 493.1L341.9 496.7L344.2 496.5L343.9 499.8L341.6 501.7A44 26.4 120 0 0 355.6 524.9Z" fill="#fff" stroke="#000" stroke-width="1.29" fill-rule="evenodd"/>
<path d="M356.6 537.9A54.6 32.8 120 0 0 366.2 543.7L364.2 548.6A60 36 120 0 0 370.5 549.3L372.4 544.4A54.6 32.8 120 0 0 385.4 541.3L385.3 545.8A60 36 120 0 0 392.6 541.9L392.5 537.4A54.6 32.8 120 0 0 405.4 526.4L407.3 529.3A60 36 120 0 0 413.6 521.7L411.5 518.9A54.6 32.8 120 0 0 420.9 502.9L424.3 503.3A60 36 120 0 0 427.8 494.2L424.4 493.8A54.6 32.8 120 0 0 427.8 477.1L431.7 475A60 36 120 0 0 431.6 466.7L427.7 468.9A54.6 32.8 120 0 0 424.1 455.9L427.5 451.9A60 36 120 0 0 423.8 446.6L420.4 450.8A54.6 32.8 120 0 0 410.9 445L412.8 440.1A60 36 120 0 0 406.5 439.4L404.6 444.3A54.6 32.8 120 0 0 391.7 447.4L391.7 442.9A60 36 120 0 0 384.4 446.8L384.5 451.3A54.6 32.8 120 0 0 371.6 462.3L369.7 459.4A60 36 120 0 0 363.4 467L365.5 469.8A54.6 32.8 120 0 0 356.1 485.8L352.7 485.4A60 36 120 0 0 349.2 494.5L352.6 494.9A54.6 32.8 120 0 0 349.3 511.6L345.4 513.7A60 36 120 0 0 345.4 522L349.3 519.8A54.6 32.8 120 0 0 352.9 532.8L349.6 536.8A60 36 120 0 0 353.2 542.1L356.6 537.9ZM366.1 533.1A44.8 26.9 120 0 0 410.9 455.6A44.8 26.9 120 0 0 366.1 533.1Z" fill="#fff" stroke="#000" stroke-width="1.12" fill-rule="evenodd"/>
<path d="M366.2 549.8L364.2 548.6M372.5 550.5L370.5 549.3M387.3 547L385.3 545.8M394.6 543L392.6 541.9M409.3 530.4L407.3 529.3M415.6 522.8L413.6 521.7M426.3 504.5L424.3 503.3M429.8 495.3L427.8 494.2M433.7 476.2L431.7 475M433.6 467.8L431.6 466.7M429.5 453L427.5 451.9M425.8 447.8L423.8 446.6M414.8 441.2L412.8 440.1M408.5 440.5L406.5 439.4M393.7 444L391.7 442.9M386.4 448L384.4 446.8M371.7 460.6L369.7 459.4M365.4 468.2L363.4 467M354.7 486.5L352.7 485.4M351.2 495.7L349.2 494.5M347.3 514.8L345.4 513.7M347.4 523.2L345.4 522M351.5 538L349.6 536.8M355.2 543.2L353.2 542.1" fill="none" stroke="#000" stroke-width="1.01" />
<path d="M358.6 539.1A54.6 32.8 120 0 0 368.1 544.8L366.2 549.8A60 36 120 0 0 372.5 550.5L374.4 545.5A54.6 32.8 120 0 0 387.3 542.5L387.3 547A60 36 120 0 0 394.6 543L394.5 538.6A54.6 32.8 120 0 0 407.4 527.5L409.3 530.4A60 36 120 0 0 415.6 522.8L413.5 520.1A54.6 32.8 120 0 0 422.9 504L426.3 504.5A60 36 120 0 0 429.8 495.3L426.4 495A54.6 32.8 120 0 0 429.7 478.2L433.7 476.2A60 36 120 0 0 433.6 467.8L429.7 470A54.6 32.8 120 0 0 426.1 457.1L429.5 453A60 36 120 0 0 425.8 447.8L422.4 451.9A54.6 32.8 120 0 0 412.9 446.2L414.8 441.2A60 36 120 0 0 408.5 440.5L406.6 445.5A54.6 32.8 120 0 0 393.7 448.5L393.7 444A60 36 120 0 0 386.4 448L386.5 452.4A54.6 32.8 120 0 0 373.6 463.5L371.7 460.6A60 36 120 0 0 365.4 468.2L367.5 470.9A54.6 32.8 120 0 0 358.1 487L354.7 486.5A60 36 120 0 0 351.2 495.7L354.6 496A54.6 32.8 120 0 0 351.3 512.8L347.3 514.8A60 36 120 0 0 347.4 523.2L351.3 521A54.6 32.8 120 0 0 354.9 533.9L351.5 538A60 36 120 0 0 355.2 543.2L358.6 539.1ZM368.1 534.3A44.8 26.9 120 0 0 412.9 456.7A44.8 26.9 120 0 0 368.1 534.3Z" fill="#fff" stroke="#000" stroke-width="1.34" fill-rule="evenodd"/>
<path d="M367.1 537L364.7 541.3M370.5 538.3L368.4 542.8M374.1 539L372.4 543.6M378 539L376.7 543.6M382.1 538.4L381.3 542.9M386.4 537L385.9 541.4M390.7 535L390.7 539.2M395 532.4L395.5 536.3M399.2 529.2L400.1 532.7M403.3 525.4L404.6 528.6M407.2 521.2L408.9 523.9M410.8 516.6L413 518.8M414.1 511.6L416.6 513.3M417.1 506.4L419.9 507.6M419.6 501L422.6 501.6M421.6 495.6L424.9 495.6M423.2 490.1L426.6 489.5M424.3 484.7L427.8 483.6M424.8 479.5L428.4 477.8M424.7 474.6L428.3 472.4M424.2 469.9L427.7 467.2M423.1 465.7L426.5 462.6M421.5 461.9L424.7 458.4M419.4 458.7L422.4 454.8M416.8 456.1L419.6 451.9M413.9 454L416.3 449.7M410.5 452.7L412.6 448.2M406.9 452L408.6 447.4M403 452L404.3 447.4M398.9 452.6L399.7 448.1M394.6 454L395.1 449.6M390.3 456L390.3 451.8M386 458.6L385.5 454.7M381.8 461.8L380.9 458.3M377.7 465.6L376.4 462.4M373.8 469.8L372.1 467.1M370.2 474.4L368 472.2M366.9 479.4L364.4 477.7M361.4 490L358.4 489.4M357.8 500.9L354.4 501.5M356.2 511.5L352.6 513.2M356.8 521.1L353.3 523.8M359.5 529.1L356.3 532.6M361.6 532.3L358.6 536.2M364.2 534.9L361.4 539.1M371 545.9L370 548.3M390.9 541.2L390.9 543.4M410.8 524.2L411.7 525.6M425.2 499.6L426.8 499.8M430.3 473.8L432.2 472.8M424.8 453.9L426.4 451.9M410 445.1L411 442.7M390.1 449.8L390.1 447.6M370.2 466.8L369.3 465.4M355.8 491.4L354.2 491.2M350.7 517.2L348.8 518.2M356.2 537.1L354.6 539.1" fill="none" stroke="#000" stroke-width="1.01" />
</g>
<path d="M169.3 274.3L164 294.7" stroke="#000" stroke-width="1.34" fill="none" />
<path d="M203.7 294.1L197.8 314.5" stroke="#000" stroke-width="1.34" fill="none" />
<path d="M242 316.5L237 337" stroke="#000" stroke-width="1.34" fill="none" />
<path d="M280 338.7L275 359" stroke="#000" stroke-width="1.34" fill="none" />
<path d="M320 360.7L315 381" stroke="#000" stroke-width="1.34" fill="none" />
<path d="M356.4 382.7L351.6 403.6" stroke="#000" stroke-width="1.34" fill="none" />
<path d="M387.4 401L382.4 421.6" stroke="#000" stroke-width="1.34" fill="none" />
<path d="M418.6 420L413.6 441" stroke="#000" stroke-width="1.34" fill="none" />
<path d="M164.4 462.4L130 408" stroke="#000" stroke-width="1.34" fill="none" />
<path d="M164.4 462.4L168 431" stroke="#000" stroke-width="1.34" fill="none" />
<path d="M164.4 462.4L205 453.6" stroke="#000" stroke-width="1.34" fill="none" />
<path d="M290.2 533.3L247.5 478" stroke="#000" stroke-width="1.34" fill="none" />
<path d="M290.2 533.3L285.3 500.2" stroke="#000" stroke-width="1.34" fill="none" />
<path d="M290.2 533.3L317.5 517.7" stroke="#000" stroke-width="1.34" fill="none" />
<path d="M290.2 533.3L346.7 534" stroke="#000" stroke-width="1.34" fill="none" />
<path d="M48.8 72L39.3 99" stroke="#000" stroke-width="1.34" fill="none" />
<path d="M142.7 65.3L132 84" stroke="#000" stroke-width="1.34" fill="none" />
<path d="M168.8 112L152 157.3" stroke="#000" stroke-width="1.34" fill="none" />
<path d="M196.5 128L177.3 160" stroke="#000" stroke-width="1.34" fill="none" />
<path d="M225.7 143.8L202.2 174.9" stroke="#000" stroke-width="1.34" fill="none" />
<path d="M252 161.3L226.7 190.7" stroke="#000" stroke-width="1.34" fill="none" />
<path d="M268 180L245.3 213.3" stroke="#000" stroke-width="1.34" fill="none" />
<path d="M337.5 220L322.5 258.3" stroke="#000" stroke-width="1.34" fill="none" />
<path d="M482.7 131L513.3 128.3" stroke="#000" stroke-width="1.34" fill="none" />
<path d="M494.7 229.3L514.7 226.3" stroke="#000" stroke-width="1.34" fill="none" />
<path d="M468.6 274.9L493.4 277.2" stroke="#000" stroke-width="1.34" fill="none" />
<path d="M453 319.5L484.2 316.7" stroke="#000" stroke-width="1.34" fill="none" />
<path d="M444.7 346.3L482 353.3" stroke="#000" stroke-width="1.34" fill="none" />
<path d="M470 212L494.7 201.3" stroke="#000" stroke-width="1.34" fill="none" />
<g id="p6" stroke-linejoin="round">
<ellipse cx="103" cy="137.2" rx="57" ry="35.3" transform="rotate(120 103 137.2)" fill="#fff" stroke="#000" stroke-width="1.12" />
<ellipse cx="104.5" cy="138" rx="57" ry="35.3" transform="rotate(120 104.5 138)" fill="#fff" stroke="#000" stroke-width="1.23" />
<ellipse cx="105.6" cy="138.7" rx="52.8" ry="32.7" transform="rotate(120 105.6 138.7)" fill="none" stroke="#000" stroke-width="1.12" />
<ellipse cx="105.9" cy="138.8" rx="48.3" ry="29.9" transform="rotate(120 105.9 138.8)" fill="none" stroke="#000" stroke-width="1.12" />
<path d="M79.2 166.8 L81.4 169.9 L84 172.3 L87.1 174 L90.5 175 L94.3 175.3 L98.2 174.8 L102.3 173.6 L106.5 171.7 L110.7 169.1 L114.7 165.9 L118.5 162.2 L122.1 158 L125.4 153.3 L128.2 148.4 L130.6 143.3 L132.5 138.1 L133.8 132.9 L134.5 127.8 L134.7 122.9 L134.3 118.3 L133.3 114.2 L131.7 110.5 L129.6 107.4 L127 104.9 L123.9 103.1 L120.5 102.1 L116.8 101.7" fill="none" stroke="#000" stroke-width="1.12" />
<path d="M116.8 101.7 L115.5 103.4 L114.4 104.2 L113.8 103.6 L113.3 102 L113.3 102 L112 103.9 L111 104.8 L110.3 104.3 L109.6 103 L109.6 103 L108.5 104.9 L107.5 105.9 L106.7 105.6 L105.8 104.5 L105.8 104.5 L104.9 106.5 L104 107.6 L103.1 107.5 L102 106.6 L102 106.6 L101.3 108.6 L100.5 109.8 L99.5 109.9 L98.3 109.2 L98.3 109.2 L97.8 111.2 L97.1 112.5 L96.1 112.7 L94.7 112.3 L94.7 112.3 L94.4 114.3 L93.8 115.6 L92.8 116 L91.3 115.8 L91.3 115.8 L91.2 117.7 L90.7 119 L89.7 119.6 L88.1 119.7 L88.1 119.7 L88.2 121.5 L87.8 122.8 L86.8 123.5 L85.2 123.9 L85.2 123.9 L85.5 125.6 L85.3 126.9 L84.3 127.7 L82.6 128.4 L82.6 128.4 L83.1 129.9 L83.1 131.2 L82.1 132.1 L80.5 133 L80.5 133 L81.1 134.3 L81.2 135.5 L80.3 136.6 L78.7 137.7 L78.7 137.7 L79.5 138.8 L79.7 139.9 L78.9 141.1 L77.3 142.4 L77.3 142.4 L78.4 143.3 L78.7 144.3 L77.9 145.6 L76.4 147.1 L76.4 147.1 L77.6 147.8 L78.1 148.6 L77.4 149.9 L76 151.6 L76 151.6 L77.4 152 L77.9 152.8 L77.4 154.1 L76.1 155.9 L76.1 155.9 L77.6 156.1 L78.2 156.7 L77.8 158 L76.7 159.9 L76.7 159.9 L78.2 159.8 L79 160.3 L78.7 161.6 L77.7 163.6 L77.7 163.6 L79.3 163.2 L80.2 163.5 L80 164.8 L79.2 166.8" fill="none" stroke="#000" stroke-width="1.01" />
<ellipse cx="104.1" cy="137.8" rx="34" ry="21.1" transform="rotate(120 104.1 137.8)" fill="none" stroke="#000" stroke-width="1.01" />
<path d="M80.2 142.2 L79.7 146.2 L79.7 150.1 L80.1 153.7 L81.1 156.9 L82.4 159.7 L84.2 162.1 L86.4 163.9 L88.9 165.2 L91.7 165.8 L94.7 165.9 L97.9 165.4 L101.2 164.3 L104.6 162.7 L107.8 160.5 L111 157.8 L114 154.6 L116.8 151.2 L119.3 147.4 L121.5 143.4 L123.2 139.3 L124.6 135.1 L125.4 131 L125.8 126.9" fill="none" stroke="#000" stroke-width="1.01" />
<path d="M78.4 159.9 L79.8 163.4 L81.7 166.3 L84 168.7 L86.8 170.5 L89.9 171.5 L93.3 171.9 L97 171.6 L100.8 170.7 L104.6 169 L108.5 166.7 L112.3 163.9" fill="none" stroke="#000" stroke-width="0.90" stroke-dasharray="5 2"/>
<ellipse cx="108" cy="135" rx="8.2" ry="5.1" transform="rotate(120 108 135)" fill="#fff" stroke="#000" stroke-width="1.12" />
<path d="M107.3 140 L107.7 140 L108.3 139.8 L108.8 139.6 L109.3 139.3 L109.8 138.9 L110.3 138.4 L110.7 137.9 L111.1 137.4 L111.5 136.8 L111.8 136.1 L112 135.5 L112.2 134.8 L112.3 134.2 L112.4 133.6 L112.3 133 L112.2 132.5 L112 132 L111.8 131.6 L111.5 131.3 L111.1 131 L110.7 130.9 L110.3 130.8 L109.8 130.8 L109.3 130.9 L108.8 131.1 L108.3 131.4 L107.8 131.8 L107.3 132.2 L106.8 132.7 L106.4 133.2 L106 133.8 L105.7 134.5 L105.4 135.1 L105.2 135.7 L105.1 136.4 L105 137" fill="none" stroke="#000" stroke-width="1.12" />
<path d="M109.9 135.6 L110.1 135.3 L110.2 134.9 L110.2 134.6 L110.3 134.3 L110.2 134 L110.2 133.7 L110.1 133.4 L110 133.2 L109.8 133.1 L109.6 132.9 L109.4 132.8 L109.2 132.8 L108.9 132.8 L108.7 132.9 L108.4 133 L108.1 133.1 L107.9 133.3 L107.6 133.5 L107.4 133.8 L107.1 134.1 L106.9 134.4 L106.8 134.7 L106.6 135.1 L106.5 135.4 L106.5 135.7 L106.4 136.1 L106.4 136.4 L106.5 136.7 L106.6 136.9 L106.7 137.1 L106.9 137.3 L107 137.4 L107.2 137.5 L107.5 137.6 L107.7 137.6 L108 137.5 L108.2 137.4" fill="none" stroke="#000" stroke-width="1.01" />
<path d="M101.7 118.4 L100.8 117.4 L100.3 116 L100.4 114.2 L101 112.3 L102 110.5 L103.4 109 L104.9 108 L106.4 107.7 L107.7 108 L121.2 115.8 L115.2 126.2Z" fill="#fff" stroke="#000" stroke-width="1.12" />
<ellipse cx="118.2" cy="121" rx="6" ry="3.7" transform="rotate(120 118.2 121)" fill="#fff" stroke="#000" stroke-width="1.12" />
<path d="M119.7 118.7 L119.4 118.8 L119.1 118.8 L118.8 119 L118.5 119.2 L118.2 119.4 L118 119.7 L117.7 120 L117.5 120.3 L117.3 120.6 L117.1 121 L116.9 121.4 L116.8 121.8 L116.8 122.1 L116.8 122.5 L116.8 122.8 L116.9 123.1 L117 123.4 L117.1 123.6 L117.3 123.8 L117.5 124 L117.8 124 L118 124.1 L118.3 124 L118.6 124 L118.9 123.8 L119.2 123.7 L119.5 123.4" fill="none" stroke="#000" stroke-width="1.23" />
<path d="M123 120.2 L122.2 119.4 L121.8 118.2 L121.9 116.7 L122.4 115.1 L123.3 113.6 L124.4 112.4 L125.7 111.6 L126.9 111.3 L128 111.6 L142.7 120.1 L137.7 128.7Z" fill="#fff" stroke="#000" stroke-width="1.12" />
<ellipse cx="140.2" cy="124.4" rx="5" ry="3.1" transform="rotate(120 140.2 124.4)" fill="#fff" stroke="#000" stroke-width="1.12" />
<ellipse cx="140.4" cy="124.5" rx="3.8" ry="1.7" transform="rotate(120 140.4 124.5)" fill="#fff" stroke="#000" stroke-width="1.01" />
<path d="M88 141.5 L87.1 140.6 L86.7 139.1 L86.8 137.3 L87.3 135.4 L88.4 133.6 L89.8 132.1 L91.3 131.2 L92.8 130.8 L94 131.2 L106.6 138.4 L100.6 148.8Z" fill="#fff" stroke="#000" stroke-width="1.12" />
<ellipse cx="103.6" cy="143.6" rx="6" ry="3.7" transform="rotate(120 103.6 143.6)" fill="#fff" stroke="#000" stroke-width="1.12" />
<path d="M105.1 141.3 L104.8 141.4 L104.5 141.4 L104.2 141.6 L103.9 141.8 L103.6 142 L103.4 142.3 L103.1 142.6 L102.9 142.9 L102.7 143.2 L102.5 143.6 L102.3 144 L102.2 144.4 L102.2 144.7 L102.2 145.1 L102.2 145.4 L102.3 145.7 L102.4 146 L102.5 146.2 L102.7 146.4 L102.9 146.6 L103.2 146.6 L103.4 146.7 L103.7 146.6 L104 146.6 L104.3 146.4 L104.6 146.3 L104.9 146" fill="none" stroke="#000" stroke-width="1.23" />
<path d="M124.8 142.7 L124.1 141.9 L123.7 140.7 L123.8 139.2 L124.3 137.6 L125.1 136.1 L126.3 134.9 L127.5 134.1 L128.8 133.8 L129.8 134.1 L143.7 142.1 L138.7 150.7Z" fill="#fff" stroke="#000" stroke-width="1.12" />
<ellipse cx="141.2" cy="146.4" rx="5" ry="3.1" transform="rotate(120 141.2 146.4)" fill="#fff" stroke="#000" stroke-width="1.12" />
<ellipse cx="141.4" cy="146.5" rx="3.6" ry="1.6" transform="rotate(120 141.4 146.5)" fill="#fff" stroke="#000" stroke-width="1.01" />
<path d="M87.3 167.6 L86.5 166.7 L86 165.3 L86.1 163.6 L86.7 161.7 L87.7 160 L89 158.5 L90.5 157.6 L91.9 157.3 L93.1 157.6 L107 165.6 L101.2 175.6Z" fill="#fff" stroke="#000" stroke-width="1.12" />
<ellipse cx="104.1" cy="170.6" rx="5.8" ry="3.6" transform="rotate(120 104.1 170.6)" fill="#fff" stroke="#000" stroke-width="1.12" />
<path d="M105.6 168.3 L105.3 168.4 L105 168.4 L104.7 168.6 L104.4 168.8 L104.1 169 L103.9 169.3 L103.6 169.6 L103.4 169.9 L103.2 170.2 L103 170.6 L102.8 171 L102.7 171.4 L102.7 171.7 L102.7 172.1 L102.7 172.4 L102.8 172.7 L102.9 173 L103 173.2 L103.2 173.4 L103.4 173.6 L103.7 173.6 L103.9 173.7 L104.2 173.6 L104.5 173.6 L104.8 173.4 L105.1 173.3 L105.4 173" fill="none" stroke="#000" stroke-width="1.23" />
<path d="M108.8 166.8 L108 166 L107.7 164.8 L107.7 163.3 L108.2 161.7 L109.1 160.2 L110.2 159 L111.5 158.2 L112.7 157.9 L113.8 158.2 L126.8 165.7 L121.8 174.3Z" fill="#fff" stroke="#000" stroke-width="1.12" />
<ellipse cx="124.3" cy="170" rx="5" ry="3.1" transform="rotate(120 124.3 170)" fill="#fff" stroke="#000" stroke-width="1.12" />
<ellipse cx="124.5" cy="170.1" rx="3.6" ry="1.6" transform="rotate(120 124.5 170.1)" fill="#fff" stroke="#000" stroke-width="1.01" />
</g>
<g id="p9">
<path d="M-3.5 86.1 L17.3 97.9 L20.3 92.5 L-0.5 80.7Z" fill="#fff" stroke="#000" stroke-width="1.23" />
<ellipse cx="3.7" cy="86.6" rx="3.3" ry="1.2" transform="rotate(112 3.7 86.6)" fill="#fff" stroke="#000" stroke-width="1.46"/>
<ellipse cx="6.2" cy="88" rx="3.3" ry="1.2" transform="rotate(112 6.2 88)" fill="#fff" stroke="#000" stroke-width="1.46"/>
<ellipse cx="8.7" cy="89.5" rx="3.3" ry="1.2" transform="rotate(112 8.7 89.5)" fill="#fff" stroke="#000" stroke-width="1.46"/>
<ellipse cx="11.2" cy="90.9" rx="3.3" ry="1.2" transform="rotate(112 11.2 90.9)" fill="#fff" stroke="#000" stroke-width="1.46"/>
<ellipse cx="13.7" cy="92.3" rx="3.3" ry="1.2" transform="rotate(112 13.7 92.3)" fill="#fff" stroke="#000" stroke-width="1.46"/>
<ellipse cx="16.3" cy="93.8" rx="3.3" ry="1.2" transform="rotate(112 16.3 93.8)" fill="#fff" stroke="#000" stroke-width="1.46"/>
<ellipse cx="18.8" cy="95.2" rx="3.3" ry="1.2" transform="rotate(112 18.8 95.2)" fill="#fff" stroke="#000" stroke-width="1.46"/>
<circle cx="-0.5" cy="81.6" r="4.3" fill="#fff" stroke="#000" stroke-width="1.34"/>
<ellipse cx="27.6" cy="101" rx="5.9" ry="2.9" transform="rotate(114 27.6 101)" fill="#fff" stroke="#000" stroke-width="2.02"/>
<ellipse cx="31" cy="102.7" rx="5.9" ry="2.9" transform="rotate(114 31 102.7)" fill="#fff" stroke="#000" stroke-width="2.02"/>
<ellipse cx="34.3" cy="104.5" rx="5.9" ry="2.9" transform="rotate(114 34.3 104.5)" fill="#fff" stroke="#000" stroke-width="2.02"/>
<ellipse cx="37.7" cy="106.2" rx="5.9" ry="2.9" transform="rotate(114 37.7 106.2)" fill="#fff" stroke="#000" stroke-width="2.02"/>
<ellipse cx="41.1" cy="107.9" rx="5.9" ry="2.9" transform="rotate(114 41.1 107.9)" fill="#fff" stroke="#000" stroke-width="2.02"/>
<ellipse cx="44.4" cy="109.7" rx="5.9" ry="2.9" transform="rotate(114 44.4 109.7)" fill="#fff" stroke="#000" stroke-width="2.02"/>
<ellipse cx="47.8" cy="111.4" rx="5.9" ry="2.9" transform="rotate(114 47.8 111.4)" fill="#fff" stroke="#000" stroke-width="2.02"/>
<path d="M50.5 112.9L66.7 125.3" stroke="#000" stroke-width="1.34" fill="none" />
</g>
<path d="M154.5 159.7 L154.5 158.9 L154.4 158 L154.2 157.3 L153.9 156.7 L153.5 156.1 L153 155.7 L152.5 155.4 L151.8 155.2 L151.2 155.2 L150.5 155.3 L149.7 155.5 L149 155.8 L148.2 156.3 L147.5 156.9 L146.8 157.5 L146.2 158.3 L145.6 159.1 L145.1 160 L144.7 160.9 L144.3 161.9 L144.1 162.8 L144 163.7 L143.9 164.6 L144 165.4 L144.2 166.2 L144.5 166.8 L144.8 167.4 L145.3 167.8 L145.8 168.2 L146.4 168.4 L147.1 168.4 L147.8 168.4 L148.5 168.2 L149.3 167.8 L150 167.4" fill="none" stroke="#000" stroke-width="1.34" />
<ellipse cx="166.5" cy="172.7" rx="15.9" ry="9.5" transform="rotate(120 166.5 172.7)" fill="#fff" stroke="#000" stroke-width="1.12" />
<ellipse cx="167.8" cy="173.4" rx="15.9" ry="9.5" transform="rotate(120 167.8 173.4)" fill="#fff" stroke="#000" stroke-width="1.23" />
<ellipse cx="169" cy="174.1" rx="6.2" ry="4.8" transform="rotate(120 169 174.1)" fill="#fff" stroke="#000" stroke-width="1.12" />
<path d="M168.7 168 L168 168.2 L167.3 168.4 L166.6 168.8 L165.9 169.2 L165.3 169.8 L164.8 170.4 L164.3 171.1 L163.9 171.9 L163.6 172.6 L163.3 173.4 L163.2 174.2 L163.2 175 L163.3 175.8 L163.5 176.5 L163.7 177.2 L164.1 177.8 L164.6 178.3 L165.1 178.7 L165.7 179 L166.3 179.1 L167 179.2 L167.7 179.2 L168.4 179" fill="none" stroke="#000" stroke-width="1.01" />
<ellipse cx="190.5" cy="185.8" rx="15.7" ry="9.4" transform="rotate(120 190.5 185.8)" fill="#fff" stroke="#000" stroke-width="1.12" />
<ellipse cx="191.6" cy="186.4" rx="15.7" ry="9.4" transform="rotate(120 191.6 186.4)" fill="#fff" stroke="#000" stroke-width="1.23" />
<ellipse cx="191.6" cy="186.4" rx="14.2" ry="8.5" transform="rotate(120 191.6 186.4)" fill="none" stroke="#000" stroke-width="0.78" />
<path d="M186.2 195.8L184.7 198.4M188.2 196.3L187.3 199M190.5 195.9L190.2 198.5M193 194.5L193.3 196.8M195.3 192.4L196.3 194M197.2 189.6L198.8 190.5M198.6 186.6L200.6 186.6M199.3 183.5L201.5 182.7M199.3 180.7L201.4 179.2M198.5 178.5L200.4 176.3M197 177L198.5 174.4M195 176.5L195.9 173.8M192.7 176.9L193 174.3M190.2 178.3L189.9 176M187.9 180.4L186.9 178.8M186 183.2L184.4 182.3M184.6 186.2L182.6 186.2M183.9 189.3L181.7 190.1M183.9 192.1L181.8 193.6M184.7 194.3L182.8 196.5" fill="none" stroke="#000" stroke-width="0.90" />
<ellipse cx="191.6" cy="186.4" rx="10" ry="6" transform="rotate(120 191.6 186.4)" fill="none" stroke="#000" stroke-width="1.12" />
<ellipse cx="192" cy="186.7" rx="7.6" ry="5.3" transform="rotate(120 192 186.7)" fill="#fff" stroke="#000" stroke-width="1.12" />
<path d="M192.2 179.5 L191.4 179.7 L190.6 180.1 L189.8 180.5 L189 181.1 L188.3 181.8 L187.6 182.6 L187 183.4 L186.5 184.4 L186.1 185.3 L185.8 186.3 L185.7 187.2 L185.6 188.2 L185.6 189.1 L185.8 189.9 L186.1 190.7 L186.5 191.4 L187 191.9 L187.6 192.4 L188.2 192.7 L188.9 192.9 L189.7 192.9 L190.5 192.8 L191.3 192.6" fill="none" stroke="#000" stroke-width="0.90" />
<g id="p15">
<ellipse cx="210.1" cy="196" rx="9.5" ry="4.8" transform="rotate(120 210.1 196)" fill="#fff" stroke="#000" stroke-width="1.12" />
<ellipse cx="211.8" cy="197" rx="9.5" ry="4.8" transform="rotate(120 211.8 197)" fill="#fff" stroke="#000" stroke-width="1.12" />
<ellipse cx="212.7" cy="197.5" rx="5.5" ry="2.8" transform="rotate(120 212.7 197.5)" fill="#fff" stroke="#000" stroke-width="1.01" />
<ellipse cx="215.3" cy="199" rx="16" ry="8.3" transform="rotate(120 215.3 199)" fill="#fff" stroke="#000" stroke-width="1.12" />
<ellipse cx="217" cy="200" rx="16" ry="8.3" transform="rotate(120 217 200)" fill="#fff" stroke="#000" stroke-width="1.23" />
<path d="M214.4 208.3 L213.3 207.1 L212.7 205.3 L212.8 203 L213.5 200.6 L214.9 198.4 L216.6 196.5 L218.5 195.3 L220.3 194.9 L221.9 195.3 L237.2 204.1 L229.7 217.1Z" fill="#fff" stroke="#000" stroke-width="1.12" />
<ellipse cx="233.4" cy="210.6" rx="7.5" ry="4.7" transform="rotate(120 233.4 210.6)" fill="#fff" stroke="#000" stroke-width="1.12" />
<path d="M221.3 212.3 L222 212.6 L222.6 212.7 L223.4 212.7 L224.1 212.5 L224.9 212.2 L225.7 211.8 L226.5 211.3 L227.2 210.6 L227.9 209.9 L228.5 209 L229.1 208.1 L229.6 207.2 L230 206.2 L230.3 205.2 L230.5 204.2 L230.6 203.3 L230.6 202.4 L230.4 201.6 L230.2 200.9 L229.8 200.2 L229.4 199.7 L228.8 199.3" fill="none" stroke="#000" stroke-width="1.01" />
<ellipse cx="233.7" cy="210.8" rx="3.7" ry="2.3" transform="rotate(120 233.7 210.8)" fill="#fff" stroke="#000" stroke-width="1.57" />
</g>
<circle cx="243.3" cy="217" r="3.6" fill="#fff" stroke="#000" stroke-width="1.23"/>
<g id="p20">
<path d="M397.9 302.3L407 307.6A2.4 1.1 120 0 1 404.6 311.7L395.5 306.5A2.4 1.1 120 0 1 397.9 302.3Z" fill="#fff" stroke="#000" stroke-width="1.12" />
<path d="M407 307.6A2.4 1.1 120 0 0 404.6 311.7" fill="none" stroke="#000" stroke-width="1.12" />
<path d="M265.5 225.7L387.6 296.2A2.5 1.1 120 0 1 385 300.6L262.9 230.1A2.5 1.1 120 0 1 265.5 225.7Z" fill="#fff" stroke="#000" stroke-width="1.12" />
<path d="M387.6 296.2A2.5 1.1 120 0 0 385 300.6" fill="none" stroke="#000" stroke-width="1.12" />
<path d="M385.7 292.4L401.7 301.7A4.9 2.2 120 0 1 396.8 310.1L380.8 300.9A4.9 2.2 120 0 1 385.7 292.4Z" fill="#fff" stroke="#000" stroke-width="1.12" />
<path d="M401.7 301.7A4.9 2.2 120 0 0 396.8 310.1" fill="none" stroke="#000" stroke-width="1.12" />
<path d="M386.8 293.5Q388.1 298.3 385.4 303M389.1 294.8Q390.4 299.6 387.6 304.3M391.3 296.1Q392.6 300.9 389.9 305.6M393.6 297.4Q394.9 302.2 392.1 306.9M395.8 298.7Q397.1 303.5 394.4 308.2M398.1 300Q399.4 304.8 396.6 309.5" fill="none" stroke="#000" stroke-width="1.23" />
<path d="M256.6 219L267 225A3.9 1.8 120 0 1 263.1 231.8L252.7 225.8A3.9 1.8 120 0 1 256.6 219Z" fill="#fff" stroke="#000" stroke-width="1.12" />
<path d="M267 225A3.9 1.8 120 0 0 263.1 231.8" fill="none" stroke="#000" stroke-width="1.12" />
<path d="M255.2 221.5L255.5 227M255.2 221.5L257.5 228.2M258.3 220.3L259.5 229.3M260.3 221.5L262.2 228.4M262.3 222.6L262.2 228.4" fill="none" stroke="#000" stroke-width="1.23" />
</g>
<g id="p21" stroke-linejoin="round" stroke-linecap="round">
<path d="M475.9 95.5 L472.6 110.2 L469.4 132.6 L463.9 154.6 L460.5 170.7 L459.9 172.9 L462.3 173.7 L461.2 177.7 L463 180.3 L469.4 181.4 L473.3 178.4 L477.2 157.2 L480.8 134.4 L485.6 112.4 L489.6 96.6Z" fill="#fff" stroke="#000" stroke-width="1.23" />
<path d="M463 180.3 L459.9 191.5 L461.6 193.1 L466 193.7 L467.8 192.2 L469.6 181.4Z" fill="#fff" stroke="#000" stroke-width="1.23" />
<path d="M472.6 109.8Q478.8 112.7 485.6 112.4" fill="none" stroke="#000" stroke-width="1.12" />
<path d="M472.1 112Q478.3 114.9 485.1 114.6" fill="none" stroke="#000" stroke-width="1.01" />
<path d="M469.8 132.2Q475 134.9 480.8 134.4" fill="none" stroke="#000" stroke-width="1.12" />
<path d="M469.3 134.4Q474.5 137.1 480.3 136.6" fill="none" stroke="#000" stroke-width="1.01" />
<path d="M464.1 154.2Q470.3 157.3 477.2 157.2" fill="none" stroke="#000" stroke-width="1.12" />
<path d="M463.6 156.4Q469.8 159.5 476.7 159.4" fill="none" stroke="#000" stroke-width="1.01" />
<path d="M463 167.1 L460.5 168.5 L459.9 172.9 L462.3 173.7" fill="none" stroke="#000" stroke-width="1.12" />
<path d="M445.2 62.6 L445.2 66.1 L456.7 75.1 L459.7 78.6 L461.2 82.6 L463.7 85.6 L473.7 93.6 L481.7 96.6 L489.7 97.6 L495.2 95.8 L496.7 92.4 L495 89.6 L486.7 84.1 L478.7 79.6 L473.7 73.6 L460.7 64.6 L456.2 61.6 L449.7 61.6Z" fill="#fff" stroke="#000" stroke-width="1.12" />
<path d="M445.5 61 L445.5 64.5 L457 73.5 L460 77 L461.5 81 L464 84 L474 92 L482 95 L490 96 L495.5 94.2 L497 90.8 L495.3 88 L487 82.5 L479 78 L474 72 L461 63 L456.5 60 L450 60Z" fill="#fff" stroke="#000" stroke-width="1.23" />
<path d="M462.5 74.7L473.2 72" stroke="#000" stroke-width="1.12" fill="none" />
<path d="M464.8 80L477.2 77.2" stroke="#000" stroke-width="1.12" fill="none" />
<path d="M446.2 63.6L451.5 66.6" stroke="#000" stroke-width="0.90" fill="none" />
<path d="M457.2 72L460 74.8" stroke="#000" stroke-width="0.90" fill="none" />
<path d="M490.8 87.2A6.6 3.4 6 1 0 489.8 90.4" fill="none" stroke="#000" stroke-width="1.23"/>
<path d="M446 56.2 L445.8 59 L450 61 L456.5 61.2 L461.5 58.6 L461.5 55.8Z" fill="#fff" stroke="#000" stroke-width="1.12" />
<path d="M446.2 56.2 L449.5 51.6 L449.5 49 L457 49 L458 52 L461.5 55.6 L458 57.8 L450 58Z" fill="#fff" stroke="#000" stroke-width="1.23" />
<ellipse cx="452.8" cy="55.4" rx="4.6" ry="2.3" transform="rotate(8 452.8 55.4)" fill="#fff" stroke="#000" stroke-width="1.12"/>
<ellipse cx="453.1" cy="55.6" rx="2.5" ry="1.2" transform="rotate(8 452.8 55.4)" fill="#fff" stroke="#000" stroke-width="1.12"/>
<path d="M449.5 51.6L458 52" stroke="#000" stroke-width="1.01" fill="none" />
</g>
<g id="p24" stroke-linejoin="round">
<path d="M437.2 263.1C437.2 261.5 437.6 260.2 439.5 259.4C441.3 258.5 445.4 257.7 448.2 257.8C451.1 258 454.2 259.2 456.4 260.2C458.6 261.1 460.2 262.2 461.3 263.4C462.4 264.6 462.5 266.2 463.2 267.4C463.8 268.6 464.3 270 465.2 270.9C466 271.8 467.6 271.9 468.3 272.5C469 273.2 469.5 274.1 469.4 274.9C469.2 275.6 468.9 276.6 467.4 277.1C465.8 277.6 462.6 277.6 459.9 277.8C457.2 278 453.1 278.5 451.3 278.1C449.4 277.8 450 276.8 448.7 275.8C447.4 274.9 445.2 273.6 443.6 272.4C441.9 271.3 440 270.4 438.9 268.8C437.8 267.2 437.1 264.7 437.2 263.1Z" fill="#fff" stroke="#000" stroke-width="1.23" />
<path d="M437.3 261.6C437.3 260 437.7 258.7 439.6 257.9C441.4 257 445.5 256.2 448.3 256.3C451.2 256.5 454.3 257.7 456.5 258.7C458.7 259.6 460.3 260.7 461.4 261.9C462.5 263.1 462.6 264.7 463.3 265.9C463.9 267.1 464.4 268.5 465.3 269.4C466.1 270.3 467.7 270.4 468.4 271C469.1 271.7 469.6 272.6 469.5 273.4C469.3 274.1 469 275.1 467.5 275.6C465.9 276.1 462.7 276.1 460 276.3C457.3 276.5 453.2 277 451.4 276.6C449.5 276.3 450.1 275.3 448.8 274.3C447.5 273.4 445.3 272.1 443.7 270.9C442 269.8 440.1 268.9 439 267.3C437.9 265.7 437.2 263.2 437.3 261.6Z" fill="#fff" stroke="#000" stroke-width="1.34" />
<path d="M443.1 261.9C443.3 261 444.9 259.7 446.6 259.4C448.2 259 451.4 259.3 453 259.8C454.7 260.4 456.2 261.8 456.5 262.9C456.8 263.9 455.9 265.4 454.9 266.1C453.8 266.9 451.6 267.6 450.1 267.4C448.5 267.2 446.7 266 445.5 265.1C444.4 264.2 442.9 262.9 443.1 261.9Z" fill="#fff" stroke="#000" stroke-width="1.68" />
<path d="M445.4 261.7C446.2 261.5 448.6 260.6 450.1 260.8C451.6 261 453.7 262.5 454.4 262.9" fill="none" stroke="#000" stroke-width="1.01" />
<ellipse cx="462.3" cy="271.7" rx="3.4" ry="1.5" transform="rotate(4 462.3 271.7)" fill="#fff" stroke="#000" stroke-width="1.68"/>
<path d="M447.2 277.6L442.5 300" stroke="#000" stroke-width="1.34" fill="none" />
</g>
<g id="p25" stroke-linecap="round">
<path d="M452.7 195Q447.5 194.3 447.5 196.9Q447.5 199.4 450.3 199.8L462.6 200.2" fill="none" stroke="#000" stroke-width="1.23" />
<ellipse cx="459.2" cy="217.8" rx="7.9" ry="4.4" transform="rotate(8 459.2 217.8)" fill="#fff" stroke="#000" stroke-width="1.46"/>
<ellipse cx="459.6" cy="213.6" rx="8.2" ry="4.4" transform="rotate(8 459.6 213.6)" fill="#fff" stroke="#000" stroke-width="1.46"/>
<ellipse cx="460.1" cy="209.4" rx="8.5" ry="4.4" transform="rotate(8 460.1 209.4)" fill="#fff" stroke="#000" stroke-width="1.46"/>
<ellipse cx="460.6" cy="205.1" rx="8.8" ry="4.4" transform="rotate(8 460.6 205.1)" fill="#fff" stroke="#000" stroke-width="1.46"/>
<ellipse cx="460.7" cy="205.5" rx="6.6" ry="2.7" transform="rotate(8 460.7 205.5)" fill="none" stroke="#000" stroke-width="1.12"/>
<path d="M462.6 222.6Q457.6 224.6 453.9 224Q451.2 225 450.3 229.5L447.2 231.4" fill="none" stroke="#000" stroke-width="1.23" />
<ellipse cx="446.1" cy="233.2" rx="3.4" ry="2.2" transform="rotate(-38 446.1 233.2)" fill="#fff" stroke="#000" stroke-width="1.23"/>
<path d="M456.1 228.6L451.2 260.7" stroke="#000" stroke-width="1.34" fill="none" />
</g>
<g id="p26" stroke-linejoin="round">
<path d="M484.6 232.8 L491.9 233.6 L490.1 245.7 L482.8 244.6Z" fill="#fff" stroke="#000" stroke-width="1.12" />
<path d="M483.8 236L491.1 236.7" stroke="#000" stroke-width="1.12" fill="none" />
<path d="M483.5 238.2L490.8 238.9" stroke="#000" stroke-width="1.12" fill="none" />
<path d="M483.2 240.4L490.5 241.1" stroke="#000" stroke-width="1.12" fill="none" />
<path d="M482.9 242.6L490.2 243.3" stroke="#000" stroke-width="1.12" fill="none" />
<path d="M482.6 244.8L489.9 245.5" stroke="#000" stroke-width="1.12" fill="none" />
<ellipse cx="486.2" cy="245.5" rx="3.6" ry="1.3" transform="rotate(8 486.2 245.5)" fill="#fff" stroke="#000" stroke-width="1.12"/>
<ellipse cx="489" cy="231.4" rx="6.6" ry="2.9" transform="rotate(8 489 231.4)" fill="#fff" stroke="#000" stroke-width="1.23"/>
<path d="M484.6 229.9 L485.3 225.1 L487.2 223.3 L493 223.7 L494.9 225.9 L494.1 230.6 L491.6 232.1 L486.8 231.7Z" fill="#fff" stroke="#000" stroke-width="1.23" />
<path d="M487.5 227.3L486.8 231.7" stroke="#000" stroke-width="1.01" fill="none" />
<path d="M492.3 227.7L491.6 232.1" stroke="#000" stroke-width="1.01" fill="none" />
<path d="M485.3 225.1 L487.5 227.3 L492.3 227.7 L494.9 225.9" fill="none" stroke="#000" stroke-width="1.01" />
<path d="M485.1 248.8 L482.4 261.7 L465.9 253.4 L462.6 269.9" fill="none" stroke="#000" stroke-width="1.23" />
</g>
<g id="p23">
<path d="M446.7 280L441.3 307.5" stroke="#000" stroke-width="1.34" fill="none" />
<path d="M426.4 315.4L426.7 322.2A13.3 6.3 4 0 0 453.1 323.9L453 317.2Z" fill="#fff" stroke="#000" stroke-width="1.23"/>
<ellipse cx="439.7" cy="316.3" rx="13.3" ry="6.3" transform="rotate(4 439.7 316.3)" fill="#fff" stroke="#000" stroke-width="1.23"/>
<ellipse cx="439.7" cy="316.3" rx="10.2" ry="4.6" transform="rotate(4 439.7 316.3)" fill="none" stroke="#000" stroke-width="1.01"/>
<path d="M445.7 317.9A6.6 3.0 4 1 1 444.7 314.7" fill="none" stroke="#000" stroke-width="1.12"/>
</g>
<g id="p22">
<path d="M425.6 336.9L423.1 349.9A9.7 4.4 4 0 0 442.5 351.2L445 338.2Z" fill="#fff" stroke="#000" stroke-width="1.23"/>
<ellipse cx="435.3" cy="337.5" rx="9.7" ry="4.6" transform="rotate(4 435.3 337.5)" fill="#fff" stroke="#000" stroke-width="1.23"/>
<ellipse cx="435.3" cy="337.7" rx="7.0" ry="3.2" transform="rotate(4 435.3 337.5)" fill="none" stroke="#000" stroke-width="1.12"/>
<ellipse cx="435.3" cy="338.4" rx="4.6" ry="1.8" transform="rotate(4 435.3 337.5)" fill="none" stroke="#000" stroke-width="1.01"/>
</g>
<g id="labels" font-size="12.7" stroke="#000" stroke-width="0.3" stroke-linejoin="round" style="will-change:opacity"><text x="166.9" y="271.8">8</text><text x="200.7" y="291.6">8</text><text x="239.7" y="314.6">8</text><text x="277.7" y="336.8">8</text><text x="318.2" y="358.8">8</text><text x="354.2" y="380.8">8</text><text x="384.8" y="399.2">8</text><text x="416.6" y="418.2">8</text><text x="160.5" y="475.8">7</text><text x="284.7" y="546.3">12</text><text x="46.1" y="70.1">9</text><text x="141.5" y="62.9">6</text><text x="163.2" y="110.3">18</text><text x="190.7" y="126.3">17</text><text x="219.3" y="141.5">16</text><text x="245.9" y="159.4">15</text><text x="263.3" y="178.3">19</text><text x="330.7" y="218.2">20</text><text x="513.6" y="132.9">21</text><text x="516.5" y="230.5">26</text><text x="494.7" y="282">24</text><text x="486.4" y="320.7">23</text><text x="483.4" y="358.5">22</text><text x="496.5" y="205.1">25</text></g>
<rect x="491" y="177" width="21" height="21" fill="#fff" stroke="#ff0000" stroke-width="4"/>
</svg>
</body></html>
